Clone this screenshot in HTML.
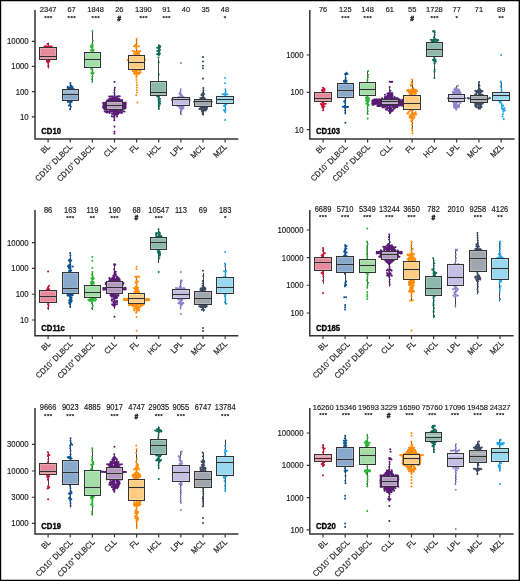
<!DOCTYPE html>
<html lang="en"><head><meta charset="utf-8"><title>Figure</title>
<style>html,body{margin:0;padding:0;background:#fff}body{width:520px;height:581px;overflow:hidden}svg{display:block;font-family:'Liberation Sans', Arial, Helvetica, sans-serif}</style></head><body>
<svg width="520" height="581" viewBox="0 0 520 581">
<rect x="0" y="0" width="520" height="581" fill="#fff"/>
<g>
<path d="M48.5 42.7V68.4" stroke="#444" stroke-width="1" fill="none"/>
<path d="M47.51 43.95h0M44.41 46.52h0M45.42 46.26h0M46.66 46.16h0M48.09 46.73h0M49.13 46.47h0M50.58 46.51h0M51.64 46.5h0M44.33 47.72h0M45.36 47.7h0M46.6 47.49h0M48.09 47.63h0M49.13 47.75h0M50.43 47.73h0M44.24 49.13h0M46.69 48.74h0M49.58 48.74h0M50.77 48.67h0M51.79 48.86h0M45.76 50.43h0M48.07 50.37h0M49.51 50.08h0M50.41 50.01h0M45.76 51.54h0M46.92 51.36h0M48.2 51.64h0M50.43 51.69h0M45.57 52.44h0M46.8 52.43h0M47.99 52.42h0M49.35 52.45h0M50.82 52.82h0M45.56 53.77h0M48.05 54.07h0M49.54 53.95h0M50.76 53.87h0M46.75 55.39h0M48.12 55.2h0M49.49 55.23h0M50.52 54.98h0M45.35 56.55h0M48.17 56.6h0M49.17 56.28h0M50.57 56.59h0M45.62 57.95h0M48.06 57.81h0M47.98 58.9h0M49.53 58.82h0M46.96 60.25h0M47.88 60.43h0M49.32 60.37h0M46.8 61.41h0M48.19 61.44h0M49.3 61.44h0M48 62.7h0M48.31 65.17h0M48.29 66.45h0" stroke="#cf1038" stroke-width="2.05" stroke-linecap="round" fill="none"/>
<rect x="39.5" y="47.5" width="17" height="12" fill="#e8899b" stroke="#333" stroke-width="1"/>
<rect x="40.5" y="48.5" width="15" height="10" fill="none" stroke="#fff" stroke-opacity="0.22" stroke-width="1"/>
<path d="M40.5 55.45H55.5M40.5 57.55H55.5" stroke="#fff" stroke-opacity="0.22" stroke-width="1"/>
<path d="M39.5 56.5H56.5" stroke="#2e2e2e" stroke-width="1.15"/>
<path d="M70.5 83V110" stroke="#444" stroke-width="1" fill="none"/>
<path d="M70.41 83h0M70.38 85.24h0M71.3 85.74h0M67.82 86.65h0M70.45 86.63h0M72.58 86.94h0M67.64 87.86h0M69.11 88.05h0M70.25 88.19h0M71.36 87.78h0M72.49 87.72h0M68.76 89.41h0M71.38 89.37h0M72.93 89.08h0M73.98 89.34h0M67.96 90.28h0M69 90.57h0M70.05 90.77h0M71.35 90.3h0M72.73 90.5h0M66.45 91.67h0M69.19 91.91h0M70.32 91.98h0M71.53 91.49h0M72.59 91.93h0M73.9 92.01h0M66.69 92.79h0M67.82 93.09h0M69.08 93.18h0M70.41 92.91h0M71.42 92.8h0M72.8 92.83h0M73.83 93.29h0M66.69 94.23h0M67.78 94.17h0M68.93 94.42h0M70.1 93.96h0M72.64 94.54h0M73.79 94.31h0M67.84 95.59h0M68.96 95.75h0M70.42 95.78h0M71.5 95.45h0M72.58 95.36h0M69 96.9h0M71.52 96.95h0M67.82 98.21h0M69.15 97.78h0M70.37 97.99h0M71.5 97.78h0M72.86 97.84h0M67.75 99.06h0M68.97 99.51h0M71.69 99.14h0M72.7 99.26h0M67.65 100.43h0M70.33 100.32h0M71.24 100.78h0M72.64 100.26h0M67.94 101.88h0M69.18 101.55h0M70.47 101.46h0M71.53 102h0M70.28 102.79h0M70.2 104.25h0M68.93 105.61h0M70.23 105.35h0M70.79 106.75h0M69.96 109.25h0" stroke="#0f5596" stroke-width="2.05" stroke-linecap="round" fill="none"/>
<rect x="62.5" y="89.5" width="16" height="11" fill="#88a9cb" stroke="#333" stroke-width="1"/>
<rect x="63.5" y="90.5" width="14" height="9" fill="none" stroke="#fff" stroke-opacity="0.22" stroke-width="1"/>
<path d="M63 92H78" stroke="#ffffff" stroke-opacity="0.5" stroke-width="0.8"/>
<path d="M63.5 93.45H77.5M63.5 95.55H77.5" stroke="#fff" stroke-opacity="0.22" stroke-width="1"/>
<path d="M62.5 94.5H78.5" stroke="#2e2e2e" stroke-width="1.15"/>
<path d="M92.5 30.9V82.3" stroke="#444" stroke-width="1" fill="none"/>
<path d="M92.91 40.5h0M92.4 44.25h0M91.25 45.63h0M92.47 45.24h0M91.1 46.92h0M92.59 46.87h0M92.37 48.18h0M92.51 49.25h0M90.93 50.38h0M92.35 50.68h0M93.66 50.36h0M92.51 52.84h0M93.48 52.74h0M92.39 54.04h0M90.93 55.33h0M92.47 55.57h0M92.21 56.58h0M93.64 56.46h0M90.87 57.95h0M92.32 58.27h0M92.5 59.42h0M92.12 60.62h0M91.24 61.69h0M91.07 63.21h0M92.41 63.25h0M93.72 63.17h0M92.3 64.03h0M93.7 63.97h0M92.12 65.23h0M92.55 66.59h0M92.23 67.98h0M91.12 68.96h0M92.26 69.34h0M92.46 70.59h0M92.32 71.71h0M91.3 73.2h0M92.48 73.04h0M93.53 73.02h0M92.55 74.25h0M92.29 76.75h0M91.89 79.25h0M92.22 81.75h0M92.36 30.9h0" stroke="#2bb536" stroke-width="2.05" stroke-linecap="round" fill="none"/>
<rect x="84.5" y="52.5" width="16" height="15" fill="#a2dea5" stroke="#333" stroke-width="1"/>
<rect x="85.5" y="53.5" width="14" height="13" fill="none" stroke="#fff" stroke-opacity="0.22" stroke-width="1"/>
<path d="M85.5 58.45H99.5M85.5 60.55H99.5" stroke="#fff" stroke-opacity="0.22" stroke-width="1"/>
<path d="M84.5 59.5H100.5" stroke="#2e2e2e" stroke-width="1.15"/>
<path d="M114.5 87.7V121" stroke="#444" stroke-width="1" fill="none"/>
<path d="M114.87 87.7h0M114.5 90.2h0M114.34 92.7h0M114.56 95.1h0M109.26 96.52h0M110.54 96.55h0M112.09 96.26h0M114.53 96.31h0M117.16 96.6h0M118.4 96.34h0M119.71 96.17h0M112.13 97.96h0M113.38 97.41h0M114.28 97.91h0M115.77 97.61h0M117.08 97.89h0M109.31 98.86h0M110.86 98.71h0M111.87 98.75h0M113.3 98.99h0M114.49 98.7h0M115.88 99.1h0M117.08 99.15h0M118.2 98.84h0M119.51 99.02h0M107.24 100.3h0M108.49 100.06h0M109.4 100.08h0M110.57 100.28h0M112.22 100.17h0M113.12 100.12h0M114.26 100.11h0M115.88 100.32h0M116.74 99.92h0M118.3 100.01h0M119.65 100.48h0M120.82 100.31h0M122.14 100.09h0M106.92 101.41h0M109.43 101.71h0M112.08 101.3h0M113.46 101.51h0M115.72 101.37h0M116.99 101.71h0M118.08 101.38h0M120.72 101.7h0M122.16 101.62h0M103.22 102.69h0M104.57 102.91h0M105.52 102.58h0M106.85 102.48h0M108.46 102.75h0M109.33 102.99h0M110.93 102.62h0M111.89 102.75h0M113.21 102.68h0M114.71 102.75h0M115.87 102.98h0M118.04 103h0M119.73 102.91h0M120.55 102.49h0M121.8 102.68h0M123.42 102.93h0M124.25 102.87h0M125.59 102.59h0M103.29 103.67h0M104.41 103.96h0M105.8 103.92h0M108.05 103.7h0M109.57 104.03h0M110.75 103.71h0M111.9 104.2h0M113.12 104.23h0M114.43 103.89h0M115.5 103.78h0M117.06 103.99h0M119.63 103.69h0M120.52 103.87h0M122.1 103.94h0M124.56 103.65h0M125.9 104.02h0M103.43 105.35h0M104.35 105.34h0M105.88 104.91h0M107.19 105.22h0M108.31 105.18h0M109.38 105.34h0M112.24 105.25h0M113.02 105.26h0M114.45 105.47h0M115.71 105.49h0M117.19 104.92h0M118.3 105.06h0M119.34 105.26h0M120.94 105.38h0M121.75 105.29h0M123.36 105.1h0M124.7 105.49h0M125.53 104.97h0M103.24 106.72h0M104.53 106.35h0M105.97 106.49h0M106.98 106.67h0M109.37 106.37h0M110.72 106.73h0M111.81 106.73h0M114.67 106.31h0M115.92 106.7h0M117.18 106.42h0M118.28 106.31h0M119.28 106.5h0M120.91 106.44h0M123.15 106.47h0M124.29 106.47h0M125.61 106.28h0M103.01 107.42h0M104.3 107.94h0M105.58 107.71h0M106.95 107.76h0M110.9 107.5h0M111.99 107.44h0M117.23 107.45h0M118.09 107.67h0M119.47 107.47h0M120.82 107.63h0M122.2 107.57h0M123.03 107.98h0M124.26 107.71h0M125.64 107.93h0M104.36 109.19h0M105.87 109.14h0M106.83 108.73h0M108.46 109.06h0M109.25 108.83h0M110.75 108.73h0M112.02 108.83h0M113.15 108.92h0M115.61 109.11h0M117.01 108.91h0M120.56 108.84h0M121.81 109.13h0M123.16 108.75h0M124.34 108.81h0M106.81 109.98h0M109.72 110.42h0M110.72 110.16h0M113.19 110.14h0M114.27 110.08h0M115.79 109.93h0M116.76 110.32h0M118.02 110.33h0M120.61 110.01h0M122.09 109.95h0M104.72 111.45h0M105.61 111.68h0M106.8 111.36h0M107.99 111.66h0M109.26 111.24h0M110.9 111.7h0M112.12 111.28h0M113.37 111.34h0M114.41 111.53h0M115.69 111.19h0M116.88 111.53h0M118.44 111.38h0M119.31 111.17h0M120.91 111.47h0M123.01 111.24h0M124.45 111.54h0M107.02 112.61h0M109.46 112.97h0M113.49 112.71h0M114.7 112.67h0M115.79 112.86h0M116.86 112.47h0M118.25 112.53h0M119.74 112.76h0M120.82 112.56h0M121.8 112.89h0M111.96 113.72h0M113.13 114.03h0M114.55 113.95h0M115.87 114.21h0M117.21 114.16h0M118.02 114.07h0M114.56 115.41h0M116.85 115.43h0M111.8 116.28h0M113.16 116.41h0M114.26 116.48h0M117.11 116.62h0M114.37 117.7h0M114.27 120.2h0M114.49 82h0M114.49 126.6h0M114.49 131.6h0M114.49 133.4h0" stroke="#5a1b76" stroke-width="2.05" stroke-linecap="round" fill="none"/>
<rect x="106.5" y="101.5" width="16" height="8" fill="#b598c2" stroke="#333" stroke-width="1"/>
<rect x="107.5" y="102.5" width="14" height="6" fill="none" stroke="#fff" stroke-opacity="0.22" stroke-width="1"/>
<path d="M107.5 104.45H121.5M107.5 106.55H121.5" stroke="#fff" stroke-opacity="0.22" stroke-width="1"/>
<path d="M106.5 105.5H122.5" stroke="#2e2e2e" stroke-width="1.15"/>
<path d="M136.5 38.7V78" stroke="#444" stroke-width="1" fill="none"/>
<path d="M136.56 38.7h0M136.6 41.2h0M136.71 43.7h0M135.39 44.87h0M133.95 46.32h0M135.6 46.43h0M136.84 46.39h0M139.04 46.26h0M136.62 47.53h0M136.4 48.65h0M132.68 51.01h0M134.27 51.07h0M136.76 51.41h0M137.97 51.38h0M139.23 51.42h0M140.16 51.06h0M135.21 52.18h0M136.86 52.54h0M139.06 52.54h0M134.05 53.47h0M135.41 53.77h0M136.67 53.79h0M137.83 53.69h0M138.89 53.68h0M134.35 54.69h0M135.25 55.04h0M136.82 55.18h0M137.84 54.67h0M139.14 55.11h0M133.99 56.27h0M136.64 55.99h0M139.21 55.93h0M133.89 57.29h0M135.13 57.39h0M136.71 57.35h0M139.04 57.64h0M132.85 58.56h0M133.88 58.68h0M135.38 58.66h0M136.85 58.99h0M137.9 58.84h0M138.99 58.99h0M140.26 58.59h0M127.72 60.12h0M129.26 59.97h0M130.54 59.95h0M131.64 59.95h0M132.68 60.06h0M134.08 60.23h0M136.85 59.7h0M137.95 59.69h0M139.26 59.98h0M140.46 59.86h0M141.75 60.2h0M142.72 59.82h0M144.3 59.8h0M145.2 59.73h0M133.99 61h0M135.25 61.15h0M136.63 61.11h0M137.87 61.06h0M139.14 61.12h0M133.88 62.74h0M135.52 62.55h0M136.47 62.38h0M137.69 62.65h0M139.09 62.74h0M134.27 63.47h0M135.19 63.7h0M136.63 63.63h0M137.79 63.52h0M138.89 63.89h0M134 65h0M135.21 64.82h0M136.79 64.97h0M138.08 65.12h0M139.18 64.71h0M134.26 66.08h0M135.51 65.99h0M136.46 65.92h0M137.94 66.39h0M138.89 66.46h0M134.29 67.49h0M135.6 67.6h0M136.8 67.42h0M139.02 67.5h0M133.94 68.7h0M135.34 68.4h0M136.67 68.97h0M137.72 68.79h0M139.04 68.78h0M135.44 70.03h0M136.43 70.08h0M137.75 70.19h0M139.29 69.93h0M140.48 69.97h0M132.63 71.12h0M133.89 71.18h0M135.37 70.91h0M136.39 71.36h0M140.31 71.03h0M134.36 72.25h0M135.26 72.16h0M136.82 72.66h0M137.68 72.56h0M139.11 72.66h0M140.52 72.72h0M134.03 73.79h0M135.2 73.83h0M136.61 73.71h0M137.77 73.64h0M138.95 73.74h0M136.58 75.05h0M136.51 76.1h0M136.41 77.45h0M136.38 79.95h0M136.68 82.45h0M136.97 84.95h0M136.91 87.45h0M136.87 89.95h0M136.98 92.45h0M136.23 94.95h0M137.42 102.5h0" stroke="#ff8d0a" stroke-width="2.05" stroke-linecap="round" fill="none"/>
<rect x="128.5" y="55.5" width="16" height="14" fill="#ffcd82" stroke="#333" stroke-width="1"/>
<rect x="129.5" y="56.5" width="14" height="12" fill="none" stroke="#fff" stroke-opacity="0.22" stroke-width="1"/>
<path d="M129.5 61.45H143.5M129.5 63.55H143.5" stroke="#fff" stroke-opacity="0.22" stroke-width="1"/>
<path d="M128.5 62.5H144.5" stroke="#2e2e2e" stroke-width="1.15"/>
<path d="M158.5 58.7V109.3" stroke="#444" stroke-width="1" fill="none"/>
<path d="M158.94 45.32h0M158.84 46.23h0M160.23 46.27h0M157.31 47.71h0M158.69 47.49h0M159.94 47.54h0M158.98 48.86h0M158.85 49.89h0M160.01 50.11h0M157.4 51.06h0M159 51.27h0M158.98 52.63h0M157.25 54.14h0M158.6 53.78h0M159.96 53.6h0M158.94 54.99h0M158.57 57.52h0M157.33 96.47h0M158.95 96.39h0M158.74 97.77h0M158.89 99.03h0M160.04 99.12h0M158.54 100.18h0M158.82 101.21h0M160.19 101.57h0M158.76 102.85h0M158.95 103.64h0M160.14 103.67h0M158.69 105.37h0M159.34 106.35h0M158.92 108.85h0M158.75 62.3h0M158.75 74.4h0" stroke="#0f6c55" stroke-width="2.05" stroke-linecap="round" fill="none"/>
<rect x="150.5" y="81.5" width="16" height="14" fill="#8cb9ab" stroke="#333" stroke-width="1"/>
<rect x="151.5" y="82.5" width="14" height="12" fill="none" stroke="#fff" stroke-opacity="0.22" stroke-width="1"/>
<path d="M151.5 91.45H165.5M151.5 93.55H165.5" stroke="#fff" stroke-opacity="0.22" stroke-width="1"/>
<path d="M150.5 92.5H166.5" stroke="#2e2e2e" stroke-width="1.15"/>
<path d="M180.5 89.3V114.3" stroke="#444" stroke-width="1" fill="none"/>
<path d="M180.73 89.3h0M180.64 91.71h0M179.65 92.98h0M179.79 94.51h0M181.1 94.38h0M180.98 95.54h0M182 95.3h0M178.49 97.08h0M180.82 97.07h0M181.93 96.92h0M183.47 96.69h0M178.15 97.82h0M179.47 97.88h0M180.81 98.08h0M183.52 97.8h0M171.9 99.35h0M173.58 99.47h0M174.66 99.35h0M175.87 99.01h0M178.43 99.07h0M179.76 99.55h0M181.07 99.54h0M182.02 99.38h0M183.45 99.42h0M184.39 99.02h0M185.74 99.19h0M187.14 99.25h0M188.21 99.59h0M189.45 99.23h0M172.08 100.41h0M173.62 100.41h0M174.53 100.4h0M175.95 100.26h0M177.14 100.75h0M179.42 100.65h0M180.85 100.82h0M182.27 100.77h0M183.6 100.61h0M184.46 100.45h0M185.83 100.61h0M186.98 100.8h0M188.57 100.79h0M189.69 100.78h0M177.18 101.8h0M178.47 101.73h0M179.5 101.72h0M180.76 101.77h0M182.23 101.55h0M184.59 101.76h0M177.06 103.06h0M178.33 102.99h0M179.52 103.14h0M180.71 103.08h0M184.77 102.91h0M177.1 104.01h0M178.55 104.03h0M179.81 104.27h0M181.09 104.48h0M182.17 104.59h0M183.58 104.35h0M177.07 105.7h0M178.59 105.66h0M179.86 105.42h0M181 105.52h0M182.07 105.51h0M183.35 105.25h0M179.46 106.98h0M181.08 106.69h0M181.93 106.82h0M183.52 106.84h0M179.62 107.78h0M180.71 108.28h0M181.95 108.21h0M183.53 108.31h0M180.83 109.53h0M182.1 109.28h0M181.07 110.31h0M181.3 111.8h0M181.25 114.3h0M180.88 62.9h0" stroke="#8f86cd" stroke-width="2.05" stroke-linecap="round" fill="none"/>
<rect x="172.5" y="97.5" width="17" height="8" fill="#c4bfe4" stroke="#333" stroke-width="1"/>
<rect x="173.5" y="98.5" width="15" height="6" fill="none" stroke="#fff" stroke-opacity="0.22" stroke-width="1"/>
<path d="M173.5 100.55H188.5" stroke="#fff" stroke-opacity="0.22" stroke-width="1"/>
<path d="M172.5 99.5H189.5" stroke="#2e2e2e" stroke-width="1.15"/>
<path d="M203.5 87.9V115.7" stroke="#444" stroke-width="1" fill="none"/>
<path d="M203.36 87.9h0M203.31 90.4h0M202.73 92.9h0M201.56 94.4h0M203.05 93.98h0M204.12 94.04h0M201.53 95.25h0M202.87 95.66h0M200.37 97.95h0M201.92 97.87h0M203.06 97.62h0M204.41 97.95h0M200.57 99.27h0M203.15 99.21h0M204.3 99.14h0M205.7 99.42h0M195.53 100.35h0M196.82 100.49h0M199.37 100.22h0M200.75 100.12h0M201.86 100.42h0M203.07 100.68h0M205.34 100.61h0M209.02 100.58h0M210.51 100.39h0M194.2 101.81h0M195.53 101.93h0M196.98 101.67h0M197.92 101.57h0M199.27 101.7h0M200.67 101.66h0M201.81 101.63h0M202.95 101.62h0M204.47 101.75h0M205.31 101.37h0M206.98 101.65h0M208.05 101.56h0M211.6 101.64h0M196.77 102.75h0M199.15 102.95h0M200.53 103.17h0M204.29 102.75h0M205.56 102.92h0M208.22 102.74h0M209.51 102.97h0M200.53 103.91h0M201.65 104.18h0M202.94 104.04h0M204.38 104.01h0M205.72 104.02h0M199.3 105.43h0M200.65 105.47h0M201.77 105.18h0M202.86 105.22h0M205.36 105.29h0M206.52 105.44h0M200.44 106.64h0M201.56 106.49h0M203 106.85h0M204.08 106.37h0M200.63 108.07h0M201.95 107.73h0M203.15 107.68h0M204.44 107.73h0M205.55 107.93h0M207.01 107.81h0M199.4 109.02h0M200.28 108.87h0M201.67 109.17h0M204.33 108.95h0M205.27 109.12h0M206.85 109h0M201.72 110.14h0M203.12 110.19h0M204.15 110.54h0M205.75 110.38h0M201.98 111.39h0M202.91 111.81h0M202.96 112.78h0M202.71 114.15h0M203.01 57.1h0M203.01 61.4h0M203.01 65.7h0M203.01 68.3h0M203.01 78.6h0" stroke="#3b4b62" stroke-width="2.05" stroke-linecap="round" fill="none"/>
<rect x="194.5" y="99.5" width="17" height="7" fill="#9fa6ae" stroke="#333" stroke-width="1"/>
<rect x="195.5" y="100.5" width="15" height="5" fill="none" stroke="#fff" stroke-opacity="0.22" stroke-width="1"/>
<path d="M195.5 102.55H210.5" stroke="#fff" stroke-opacity="0.22" stroke-width="1"/>
<path d="M194.5 101.5H211.5" stroke="#2e2e2e" stroke-width="1.15"/>
<path d="M225.5 89.3V113" stroke="#444" stroke-width="1" fill="none"/>
<path d="M225.36 89.3h0M225.63 91.8h0M225.33 93.08h0M222.65 94.18h0M223.93 94.31h0M225.35 94.04h0M226.62 94.36h0M227.58 94.34h0M225.2 95.29h0M224.04 96.97h0M225.07 96.78h0M225.16 98.34h0M226.46 97.81h0M224.12 100.4h0M225.04 100.68h0M226.47 100.66h0M223.95 101.58h0M225.24 101.97h0M224.1 103.04h0M225.16 104.35h0M226.52 104.09h0M223.86 105.82h0M225.32 105.61h0M225.18 106.8h0M225.48 109.3h0M223.84 110.34h0M225.35 110.42h0M225.09 111.8h0M225.14 77.9h0M225.14 83.3h0M225.14 120h0" stroke="#20a8ea" stroke-width="2.05" stroke-linecap="round" fill="none"/>
<rect x="216.5" y="96.5" width="17" height="7" fill="#98d8f1" stroke="#333" stroke-width="1"/>
<rect x="217.5" y="97.5" width="15" height="5" fill="none" stroke="#fff" stroke-opacity="0.22" stroke-width="1"/>
<path d="M217.5 98.45H232.5M217.5 100.55H232.5" stroke="#fff" stroke-opacity="0.22" stroke-width="1"/>
<path d="M216.5 99.5H233.5" stroke="#2e2e2e" stroke-width="1.15"/>
<path d="M35 10V139H238.4" stroke="#333" stroke-width="1.5" fill="none"/>
<path d="M31.9 41.4H35M31.9 66.4H35M31.9 91.6H35M31.9 116.8H35M48.1 139V142.4M70.23 139V142.4M92.36 139V142.4M114.49 139V142.4M136.62 139V142.4M158.75 139V142.4M180.88 139V142.4M203.01 139V142.4M225.14 139V142.4" stroke="#333" stroke-width="1.15" fill="none"/>
<g font-size="7.8" fill="#1a1a1a" stroke="#1a1a1a" stroke-width="0.15" text-anchor="end">
<text transform="translate(28.7 44.35) scale(1 1.1)">10000</text>
<text transform="translate(28.7 69.35) scale(1 1.1)">1000</text>
<text transform="translate(28.7 94.55) scale(1 1.1)">100</text>
<text transform="translate(28.7 119.75) scale(1 1.1)">10</text>
</g>
<g font-size="7.5" fill="#1a1a1a" stroke="#1a1a1a" stroke-width="0.15" text-anchor="middle">
<text transform="translate(48.2 12.35) scale(1 1.08)">2347</text>
<text x="48.4" y="20.2" font-size="6.2" font-weight="bold" letter-spacing="0.4" stroke="#111" stroke-width="0.12" fill="#111">***</text>
<text transform="translate(71.6 12.35) scale(1 1.08)">67</text>
<text x="71.8" y="20.2" font-size="6.2" font-weight="bold" letter-spacing="0.4" stroke="#111" stroke-width="0.12" fill="#111">***</text>
<text transform="translate(95.6 12.35) scale(1 1.08)">1848</text>
<text x="95.8" y="20.2" font-size="6.2" font-weight="bold" letter-spacing="0.4" stroke="#111" stroke-width="0.12" fill="#111">***</text>
<text transform="translate(119.3 12.35) scale(1 1.08)">26</text>
<text x="119.1" y="20.55" font-size="6.5" font-style="italic" font-weight="bold" stroke="#2a2a2a" stroke-width="0.5" fill="#2a2a2a">#</text>
<text transform="translate(143.4 12.35) scale(1 1.08)">1390</text>
<text x="143.6" y="20.2" font-size="6.2" font-weight="bold" letter-spacing="0.4" stroke="#111" stroke-width="0.12" fill="#111">***</text>
<text transform="translate(166.4 12.35) scale(1 1.08)">91</text>
<text x="166.6" y="20.2" font-size="6.2" font-weight="bold" letter-spacing="0.4" stroke="#111" stroke-width="0.12" fill="#111">***</text>
<text transform="translate(186 12.35) scale(1 1.08)">40</text>
<text transform="translate(205.6 12.35) scale(1 1.08)">35</text>
<text transform="translate(225 12.35) scale(1 1.08)">48</text>
<text x="225.2" y="20.2" font-size="6.2" font-weight="bold" letter-spacing="0.4" stroke="#111" stroke-width="0.12" fill="#111">*</text>
</g>
<text transform="translate(41.2 134.3) scale(1 1.07)" font-size="7.75" font-weight="bold" fill="#000" stroke="#000" stroke-width="0.3">CD10</text>
<g font-size="7.65" fill="#1a1a1a" stroke="#1a1a1a" stroke-width="0.15" text-anchor="end">
<text transform="translate(50.6 147.5) rotate(-45) scale(1 1.07)">BL</text>
<text transform="translate(72.69 147.5) rotate(-45) scale(1 1.07)">CD10<tspan font-size="4.4" dy="-3.3">−</tspan><tspan dy="3.3" dx="-0.5"> DLBCL</tspan></text>
<text transform="translate(94.78 147.5) rotate(-45) scale(1 1.07)">CD10<tspan font-size="5" dy="-3.1">+</tspan><tspan dy="3.1" dx="-0.3"> DLBCL</tspan></text>
<text transform="translate(116.88 147.5) rotate(-45) scale(1 1.07)">CLL</text>
<text transform="translate(138.97 147.5) rotate(-45) scale(1 1.07)">FL</text>
<text transform="translate(161.06 147.5) rotate(-45) scale(1 1.07)">HCL</text>
<text transform="translate(183.16 147.5) rotate(-45) scale(1 1.07)">LPL</text>
<text transform="translate(205.25 147.5) rotate(-45) scale(1 1.07)">MCL</text>
<text transform="translate(227.34 147.5) rotate(-45) scale(1 1.07)">MZL</text>
</g>
</g>
<g>
<path d="M323.5 87.7V111" stroke="#444" stroke-width="1" fill="none"/>
<path d="M323.04 87.7h0M323.2 89.08h0M324.49 88.78h0M321.9 90.29h0M323.23 90.42h0M324.5 90.35h0M322.86 91.47h0M323.31 92.49h0M324.37 92.62h0M323.04 94.2h0M324.36 93.83h0M322.86 95.18h0M324.57 95.37h0M321.7 96.41h0M322.92 96.67h0M322.85 97.77h0M324.38 97.46h0M321.6 99.13h0M323.15 98.66h0M323.31 100.29h0M324.41 100.18h0M321.92 101.67h0M322.94 101.36h0M323.05 102.46h0M320.72 103.97h0M322.07 104.22h0M323.31 104.04h0M324.47 103.75h0M325.72 103.72h0M321.67 104.95h0M323.29 105.35h0M322.09 106.73h0M323.21 106.3h0M324.43 106.54h0M322.6 107.7h0M323.02 110.2h0" stroke="#cf1038" stroke-width="2.05" stroke-linecap="round" fill="none"/>
<rect x="314.5" y="92.5" width="17" height="9" fill="#e8899b" stroke="#333" stroke-width="1"/>
<rect x="315.5" y="93.5" width="15" height="7" fill="none" stroke="#fff" stroke-opacity="0.22" stroke-width="1"/>
<path d="M315.5 97.45H330.5M315.5 99.55H330.5" stroke="#fff" stroke-opacity="0.22" stroke-width="1"/>
<path d="M314.5 98.5H331.5" stroke="#2e2e2e" stroke-width="1.15"/>
<path d="M345.5 73V114.6" stroke="#444" stroke-width="1" fill="none"/>
<path d="M346.53 72.83h0M345.03 73.95h0M346.26 74.28h0M347.43 74.08h0M345.71 78h0M344.15 80.67h0M345.25 80.39h0M346.47 80.58h0M343.97 81.5h0M345.47 81.97h0M346.49 81.67h0M345.35 83.17h0M345.34 84.54h0M343.93 85.32h0M345.61 85.35h0M346.85 85.75h0M345.36 86.49h0M346.38 86.51h0M344.16 88.24h0M345.31 87.89h0M345.31 89.31h0M346.43 89.18h0M345.25 90.35h0M345.53 91.92h0M345.05 93h0M345.64 95.5h0M345.45 98h0M345.14 100.5h0M344.13 101.51h0M345.21 101.95h0M345.26 103h0M344.98 105.5h0M342.94 106.67h0M343.93 106.75h0M345.51 106.53h0M346.84 106.97h0M347.99 106.85h0M345.09 108h0M345.03 110.5h0M345.24 113h0M345.36 122.7h0" stroke="#0f5596" stroke-width="2.05" stroke-linecap="round" fill="none"/>
<rect x="337.5" y="83.5" width="16" height="14" fill="#88a9cb" stroke="#333" stroke-width="1"/>
<rect x="338.5" y="84.5" width="14" height="12" fill="none" stroke="#fff" stroke-opacity="0.22" stroke-width="1"/>
<path d="M338.5 89.45H352.5M338.5 91.55H352.5" stroke="#fff" stroke-opacity="0.22" stroke-width="1"/>
<path d="M337.5 90.5H353.5" stroke="#2e2e2e" stroke-width="1.15"/>
<path d="M367.5 71V113.9" stroke="#444" stroke-width="1" fill="none"/>
<path d="M368.2 71h0M368.12 74.75h0M368.09 77.25h0M367.46 79.75h0M367.41 82.25h0M366.18 83.59h0M367.75 83.73h0M369.06 83.47h0M367.37 84.72h0M368.69 84.91h0M366.46 85.88h0M367.63 86.27h0M368.84 85.72h0M367.56 87.29h0M367.42 88.36h0M368.81 88.56h0M366.29 89.86h0M367.83 90.04h0M366.18 91.23h0M367.64 91.11h0M366.35 91.99h0M367.7 92.52h0M369.11 92.09h0M366.46 93.62h0M367.8 93.36h0M369.06 93.69h0M368.89 94.82h0M366.16 97.37h0M367.68 96.97h0M366.16 98.58h0M367.58 98.5h0M368.98 98.32h0M366.39 99.55h0M367.87 99.82h0M368.86 99.74h0M366.25 101.06h0M367.72 101.1h0M368.77 101.14h0M366.25 103.62h0M367.84 103.2h0M367.45 104.61h0M368.68 104.75h0M367.93 106h0M367.63 108.5h0M367.82 111h0M367.6 113.5h0M367.62 113.9h0M367.62 118.6h0" stroke="#2bb536" stroke-width="2.05" stroke-linecap="round" fill="none"/>
<rect x="359.5" y="82.5" width="16" height="13" fill="#a2dea5" stroke="#333" stroke-width="1"/>
<rect x="360.5" y="83.5" width="14" height="11" fill="none" stroke="#fff" stroke-opacity="0.22" stroke-width="1"/>
<path d="M360.5 88.45H374.5M360.5 90.55H374.5" stroke="#fff" stroke-opacity="0.22" stroke-width="1"/>
<path d="M359.5 89.5H375.5" stroke="#2e2e2e" stroke-width="1.15"/>
<path d="M389.5 87.4V113.9" stroke="#444" stroke-width="1" fill="none"/>
<path d="M389.66 81.81h0M390.84 82.07h0M392.18 81.85h0M389.63 87h0M390.4 90.75h0M387.42 93.41h0M388.54 93.28h0M389.79 93.07h0M391.2 93.26h0M392.18 93.09h0M385 94.66h0M388.49 94.49h0M390 94.79h0M391.06 94.75h0M392.56 94.7h0M387.32 95.74h0M388.39 95.99h0M390.07 95.46h0M390.92 95.59h0M392.47 95.98h0M384.97 96.95h0M386.32 96.81h0M387.48 96.89h0M390.01 96.84h0M391.3 97.03h0M394.7 96.98h0M382.14 98.37h0M384.78 98.28h0M386.33 97.99h0M387.34 98.15h0M388.51 98.27h0M390.03 98.16h0M391.33 98.11h0M392.52 98h0M393.84 98.01h0M395.12 98.52h0M396.27 98.4h0M397.28 98.05h0M373.46 99.74h0M374.8 99.49h0M376.33 99.28h0M377.51 99.51h0M378.61 99.44h0M379.75 99.34h0M381.25 99.72h0M382.42 99.58h0M383.48 99.43h0M384.82 99.6h0M386.21 99.35h0M388.85 99.65h0M390.13 99.61h0M392.26 99.45h0M393.82 99.26h0M394.79 99.77h0M396.37 99.69h0M397.34 99.49h0M398.58 99.38h0M399.81 99.47h0M402.25 99.77h0M403.62 99.69h0M406.24 99.78h0M372.32 100.88h0M373.46 100.6h0M375.11 100.97h0M376.06 100.97h0M377.44 100.9h0M378.8 100.63h0M379.88 100.77h0M381.3 100.78h0M382.42 100.46h0M383.6 100.59h0M385.09 100.7h0M385.94 100.89h0M387.24 100.69h0M391.37 100.67h0M393.73 100.75h0M394.96 100.56h0M397.4 100.82h0M398.82 100.87h0M400.1 101.01h0M401.26 101.05h0M402.36 100.8h0M403.78 100.99h0M404.79 100.67h0M406.36 100.58h0M407.17 100.83h0M372.55 102.13h0M373.78 101.74h0M374.92 102.19h0M376.31 102.26h0M377.32 101.77h0M378.81 102.17h0M380 101.8h0M380.9 101.8h0M382.25 101.87h0M384.93 101.86h0M385.98 102.26h0M389.92 102.29h0M390.95 102.28h0M392.49 102.2h0M393.46 101.87h0M395.11 102.06h0M396.34 101.74h0M397.62 101.84h0M399.79 102.07h0M401.18 102.07h0M402.62 102.19h0M403.66 101.74h0M404.76 102.05h0M405.95 102.12h0M407.53 102.24h0M372.25 103.36h0M373.79 103.54h0M374.89 103.07h0M375.97 103.39h0M377.31 103.2h0M378.85 103.35h0M379.66 103.16h0M381.26 103.51h0M382.25 103.36h0M383.64 103.05h0M384.89 103.42h0M386.2 103.06h0M387.32 103.12h0M388.46 103.13h0M389.89 103.21h0M391.01 103.06h0M392.4 103.36h0M393.64 103.15h0M394.77 103.09h0M396.01 103.14h0M397.3 103.22h0M398.58 103.11h0M399.81 103.3h0M401.27 103.24h0M402.49 103.15h0M403.46 103.39h0M404.79 103.52h0M406.13 103.22h0M407.47 103h0M372.52 104.76h0M373.48 104.66h0M374.88 104.25h0M377.47 104.76h0M378.86 104.45h0M379.8 104.33h0M381.04 104.5h0M382.53 104.73h0M383.42 104.71h0M387.4 104.65h0M388.86 104.24h0M390.05 104.33h0M391.24 104.54h0M392.34 104.32h0M393.49 104.28h0M395.99 104.65h0M397.3 104.23h0M398.6 104.59h0M399.73 104.54h0M400.97 104.36h0M402.61 104.73h0M403.69 104.31h0M404.71 104.55h0M406.19 104.73h0M407.45 104.48h0M377.41 105.91h0M378.71 105.95h0M379.94 105.9h0M381.2 105.76h0M382.2 105.85h0M383.81 105.6h0M384.76 105.64h0M386.26 105.74h0M387.26 105.92h0M388.68 105.47h0M389.82 105.57h0M391.02 105.56h0M392.24 105.66h0M393.75 105.93h0M394.88 105.81h0M396.23 105.63h0M397.3 105.61h0M398.72 105.67h0M400.11 105.51h0M402.17 105.78h0M382.47 107.18h0M383.41 107.23h0M384.82 107.14h0M386.21 106.71h0M387.17 106.97h0M390.05 107.12h0M392.5 106.79h0M393.66 107.11h0M394.63 107.29h0M396.05 106.99h0M397.15 107.28h0M387.42 108.13h0M388.4 108.04h0M389.93 108.18h0M391.28 108.22h0M394.76 108.21h0M385.91 109.38h0M387.36 109.47h0M389.95 109.44h0M391.15 109.54h0M392.2 109.43h0M393.49 109.3h0M388.69 110.67h0M390.06 110.55h0M391.08 110.95h0M392.62 110.75h0M390 111.87h0M390.96 111.76h0M389.93 113.25h0" stroke="#5a1b76" stroke-width="2.05" stroke-linecap="round" fill="none"/>
<rect x="381.5" y="99.5" width="17" height="5" fill="#b598c2" stroke="#333" stroke-width="1"/>
<rect x="382.5" y="100.5" width="15" height="3" fill="none" stroke="#fff" stroke-opacity="0.22" stroke-width="1"/>
<path d="M382.5 102.55H397.5" stroke="#fff" stroke-opacity="0.22" stroke-width="1"/>
<path d="M381.5 101.5H398.5" stroke="#2e2e2e" stroke-width="1.15"/>
<path d="M412.5 79.6V129.5" stroke="#444" stroke-width="1" fill="none"/>
<path d="M412.16 79.6h0M411.59 82.1h0M412.08 83.42h0M410.76 84.66h0M412.04 84.32h0M410.95 86h0M413.57 88.25h0M408.25 89.79h0M410.99 89.79h0M411.91 89.45h0M413.4 89.47h0M414.67 89.85h0M415.94 89.65h0M407 90.58h0M408.23 90.63h0M409.47 90.64h0M410.9 91.09h0M412.37 90.57h0M413.19 90.82h0M414.41 90.95h0M416.05 90.95h0M417.05 91.08h0M408.6 92.12h0M409.43 92.18h0M410.79 92h0M412.2 91.89h0M413.32 92.39h0M414.65 92.15h0M416.05 92.06h0M409.85 93.41h0M410.79 93.16h0M412 93.47h0M413.14 93.32h0M414.79 93.06h0M415.89 93.22h0M409.83 94.67h0M410.89 94.5h0M411.96 94.35h0M414.81 94.64h0M409.82 95.7h0M410.91 95.79h0M412.24 96.02h0M413.52 96.11h0M414.55 95.65h0M409.78 97.23h0M411.92 96.88h0M409.43 98.59h0M410.69 98.5h0M412.13 98.43h0M413.49 98.58h0M414.51 98.6h0M409.58 99.85h0M411.12 99.42h0M412.24 99.64h0M413.19 99.52h0M414.73 99.89h0M409.63 100.61h0M411.07 100.97h0M412.24 101.13h0M413.33 100.82h0M414.8 100.93h0M409.57 102.28h0M412.32 102.18h0M413.56 102.23h0M414.49 101.82h0M409.67 103.45h0M411.08 103.45h0M413.46 103.5h0M414.4 103.14h0M411.05 104.78h0M412.16 104.52h0M413.15 104.74h0M414.7 104.39h0M411 105.77h0M412.07 106h0M414.82 105.69h0M409.82 107.07h0M412.32 107.32h0M413.2 107.1h0M409.42 108.41h0M411.11 108.25h0M412.36 108.56h0M413.27 108.43h0M414.77 108.42h0M409.6 109.5h0M410.83 109.68h0M412.1 109.85h0M413.37 109.65h0M409.81 110.67h0M411.94 110.77h0M408.53 111.93h0M412.17 112.2h0M415.65 112.3h0M407.28 113.5h0M408.42 113.47h0M412.01 113.41h0M413.21 113.16h0M414.88 113.13h0M415.66 113.12h0M410.78 114.55h0M412.14 114.87h0M413.36 114.57h0M414.79 114.53h0M416.14 114.52h0M409.81 115.97h0M410.95 116.08h0M412.3 115.65h0M413.62 116.06h0M409.55 117.26h0M411.92 117.01h0M414.49 117.35h0M410.74 118.15h0M412.28 118.53h0M413.57 118.47h0M412.32 119.41h0M411.02 121.02h0M411.97 121.08h0M412.22 122.1h0M411.99 124.6h0M411.97 128.35h0M412.34 130.85h0M412.54 133.35h0" stroke="#ff8d0a" stroke-width="2.05" stroke-linecap="round" fill="none"/>
<rect x="403.5" y="95.5" width="17" height="14" fill="#ffcd82" stroke="#333" stroke-width="1"/>
<rect x="404.5" y="96.5" width="15" height="12" fill="none" stroke="#fff" stroke-opacity="0.22" stroke-width="1"/>
<path d="M404.5 102.45H419.5M404.5 104.55H419.5" stroke="#fff" stroke-opacity="0.22" stroke-width="1"/>
<path d="M403.5 103.5H420.5" stroke="#2e2e2e" stroke-width="1.15"/>
<path d="M434.5 31.1V77.9" stroke="#444" stroke-width="1" fill="none"/>
<path d="M433.11 31.38h0M434.41 31.06h0M434.65 32.35h0M434.78 34.85h0M433.8 37.35h0M434.59 38.51h0M430.73 39.76h0M431.7 40.1h0M433.27 39.76h0M434.62 39.74h0M435.56 39.63h0M436.77 39.88h0M438.11 40.14h0M432.12 41.38h0M432.9 41.21h0M434.46 40.98h0M437.04 40.96h0M434.42 42.49h0M435.8 42.33h0M434.49 43.34h0M434.28 44.68h0M433.04 45.97h0M434.51 46.32h0M435.4 46.07h0M433.1 47.42h0M434.61 47.36h0M433.07 48.66h0M434.63 48.61h0M432.97 50.15h0M434.2 49.61h0M435.48 49.83h0M433.32 51.07h0M434.63 51.01h0M432.96 53.63h0M434.48 53.48h0M435.47 53.37h0M434.17 54.95h0M435.77 54.74h0M434.52 56.37h0M434.3 57.39h0M434.35 58.63h0M432.94 60.02h0M434.28 60.09h0M435.51 59.65h0M434.34 61.15h0M435.84 61.4h0M434.52 62.18h0M434.6 63.6h0M434.66 69.85h0M434.4 71.5h0M434.4 77.9h0" stroke="#0f6c55" stroke-width="2.05" stroke-linecap="round" fill="none"/>
<rect x="426.5" y="42.5" width="16" height="14" fill="#8cb9ab" stroke="#333" stroke-width="1"/>
<rect x="427.5" y="43.5" width="14" height="12" fill="none" stroke="#fff" stroke-opacity="0.22" stroke-width="1"/>
<path d="M427.5 48.45H441.5M427.5 50.55H441.5" stroke="#fff" stroke-opacity="0.22" stroke-width="1"/>
<path d="M426.5 49.5H442.5" stroke="#2e2e2e" stroke-width="1.15"/>
<path d="M456.5 85.7V110.1" stroke="#444" stroke-width="1" fill="none"/>
<path d="M458.02 85.7h0M455.37 88.24h0M456.66 88.22h0M454.15 89.52h0M455.32 89.48h0M456.59 89.37h0M458.07 89.42h0M459.19 89.67h0M455.33 90.44h0M456.52 90.78h0M457.85 90.91h0M459.05 90.68h0M452.8 91.84h0M454.2 91.83h0M455.54 91.73h0M456.69 92.01h0M457.86 92.05h0M459.19 91.68h0M460.22 92.04h0M453.02 93h0M454.28 92.99h0M455.63 92.95h0M456.61 93.23h0M457.87 93.3h0M458.98 93.33h0M460.57 93.07h0M452.67 94.49h0M455.57 94.19h0M456.84 94.16h0M458.14 94.55h0M459.36 94.49h0M460.4 94.75h0M453.04 95.56h0M455.63 95.44h0M456.61 95.79h0M457.92 95.91h0M459.15 95.7h0M460.41 95.69h0M453.05 96.65h0M454.32 96.8h0M455.19 97.15h0M456.72 96.76h0M460.6 96.86h0M447.84 98.18h0M448.96 98.31h0M450.55 98.27h0M456.55 98.29h0M458.04 97.92h0M459.1 98.5h0M460.33 98.22h0M461.42 98.1h0M462.94 98.38h0M464.36 98.31h0M465.57 97.97h0M452.99 99.29h0M454.1 99.64h0M455.34 99.71h0M456.86 99.3h0M459.37 99.37h0M460.57 99.7h0M453.12 100.4h0M453.98 100.95h0M455.35 100.61h0M456.66 100.72h0M458.12 100.93h0M459.28 100.59h0M460.52 100.86h0M453.15 102.14h0M454.18 101.67h0M455.21 101.81h0M456.48 101.76h0M458.05 101.7h0M459.37 101.68h0M460.63 101.87h0M454.26 103.23h0M455.22 103.39h0M456.82 103.01h0M460.32 102.94h0M453.97 104.6h0M455.63 104.5h0M456.48 104.31h0M459.05 104.75h0M454.1 105.66h0M455.21 105.43h0M456.71 105.72h0M457.97 105.46h0M459.05 105.49h0M454 106.95h0M455.53 106.97h0M456.79 106.94h0M457.86 106.87h0M459.09 107.05h0M455.22 108.22h0M456.86 107.9h0M456.18 109.45h0" stroke="#8f86cd" stroke-width="2.05" stroke-linecap="round" fill="none"/>
<rect x="448.5" y="94.5" width="16" height="7" fill="#c4bfe4" stroke="#333" stroke-width="1"/>
<rect x="449.5" y="95.5" width="14" height="5" fill="none" stroke="#fff" stroke-opacity="0.22" stroke-width="1"/>
<path d="M449.5 97.45H463.5M449.5 99.55H463.5" stroke="#fff" stroke-opacity="0.22" stroke-width="1"/>
<path d="M448.5 98.5H464.5" stroke="#2e2e2e" stroke-width="1.15"/>
<path d="M478.5 82.1V109.7" stroke="#444" stroke-width="1" fill="none"/>
<path d="M479.1 82.1h0M478.97 84.6h0M479.51 86.02h0M479.18 88.35h0M478.93 89.49h0M479.98 89.38h0M475.34 90.81h0M476.65 91.06h0M477.82 90.64h0M479.12 90.83h0M479.95 91.14h0M481.51 90.78h0M482.44 91.13h0M476.55 91.91h0M477.92 92.04h0M479.04 92.09h0M480.16 92.22h0M481.31 91.97h0M476.45 93.3h0M478.77 93.53h0M480.32 93.2h0M475.04 94.42h0M476.2 94.84h0M478.96 94.73h0M480.38 94.35h0M481.22 94.67h0M482.72 94.73h0M475.21 95.76h0M476.31 95.81h0M477.69 95.89h0M478.82 95.76h0M480.1 96.1h0M481.39 96.15h0M482.91 95.79h0M475.2 97.33h0M476.32 97.15h0M477.62 96.86h0M478.97 96.93h0M479.97 97.37h0M481.56 97.1h0M482.61 96.81h0M467.84 98.08h0M468.75 98.61h0M470.4 98.28h0M471.4 98.61h0M472.87 98.25h0M474 98.59h0M475.4 98.1h0M476.63 98.49h0M477.81 98.6h0M478.99 98.43h0M480.24 98.24h0M481.28 98.23h0M482.54 98.23h0M485.18 98.28h0M486.21 98.23h0M487.5 98.58h0M488.73 98.62h0M490.02 98.07h0M475.16 99.48h0M477.45 99.38h0M478.87 99.7h0M481.45 99.9h0M475.31 100.92h0M476.54 100.93h0M477.49 100.73h0M479.04 100.66h0M479.95 100.84h0M481.34 100.62h0M482.57 101.05h0M475.02 102.08h0M476.42 102.13h0M477.54 101.9h0M478.71 102.22h0M480.32 102.06h0M482.89 102.12h0M475.15 103.18h0M476.58 103.16h0M477.65 103.45h0M479.12 103.43h0M481.46 103.15h0M482.89 103.49h0M475.25 104.63h0M476.47 104.87h0M477.77 104.44h0M478.75 104.59h0M480.28 104.37h0M481.32 104.53h0M475.27 106.04h0M476.27 105.78h0M480.25 105.85h0M476.37 107.27h0M477.48 107.34h0M478.97 107.35h0M480.21 107h0M481.52 106.89h0M479.04 108.26h0M480.06 108.55h0" stroke="#3b4b62" stroke-width="2.05" stroke-linecap="round" fill="none"/>
<rect x="470.5" y="95.5" width="17" height="7" fill="#9fa6ae" stroke="#333" stroke-width="1"/>
<rect x="471.5" y="96.5" width="15" height="5" fill="none" stroke="#fff" stroke-opacity="0.22" stroke-width="1"/>
<path d="M471.5 98.45H486.5M471.5 100.55H486.5" stroke="#fff" stroke-opacity="0.22" stroke-width="1"/>
<path d="M470.5 99.5H487.5" stroke="#2e2e2e" stroke-width="1.15"/>
<path d="M501.5 81.6V101" stroke="#444" stroke-width="1" fill="none"/>
<path d="M500.73 81.63h0M500.99 82.85h0M500.69 86.6h0M501.39 89.1h0M501.63 91.6h0M501.13 94.1h0M499.64 95.63h0M500.81 95.45h0M500.75 96.41h0M499.08 98.04h0M500.42 97.64h0M501.84 97.66h0M500.48 100.18h0M499.45 101.72h0M500.65 101.33h0M499.86 102.56h0M501.19 102.99h0M501.54 104.22h0M502.02 105.64h0M503.11 105.64h0M502.04 106.6h0M501.81 108.11h0M504.34 107.92h0M502.46 109.23h0M503.43 109.12h0M503.48 110.6h0M505 110.31h0M503.51 111.6h0M502.91 114.1h0M502.58 116.6h0M503.77 119.1h0M501.18 54.9h0" stroke="#20a8ea" stroke-width="2.05" stroke-linecap="round" fill="none"/>
<rect x="492.5" y="92.5" width="17" height="8" fill="#98d8f1" stroke="#333" stroke-width="1"/>
<rect x="493.5" y="93.5" width="15" height="6" fill="none" stroke="#fff" stroke-opacity="0.22" stroke-width="1"/>
<path d="M493.5 94.45H508.5M493.5 96.55H508.5" stroke="#fff" stroke-opacity="0.22" stroke-width="1"/>
<path d="M492.5 95.5H509.5" stroke="#2e2e2e" stroke-width="1.15"/>
<path d="M309.8 10V139H514.6" stroke="#333" stroke-width="1.5" fill="none"/>
<path d="M306.7 55H309.8M306.7 92.4H309.8M306.7 129.6H309.8M323.1 139V142.4M345.36 139V142.4M367.62 139V142.4M389.88 139V142.4M412.14 139V142.4M434.4 139V142.4M456.66 139V142.4M478.92 139V142.4M501.18 139V142.4" stroke="#333" stroke-width="1.15" fill="none"/>
<g font-size="7.8" fill="#1a1a1a" stroke="#1a1a1a" stroke-width="0.15" text-anchor="end">
<text transform="translate(303.5 57.95) scale(1 1.1)">1000</text>
<text transform="translate(303.5 95.35) scale(1 1.1)">100</text>
<text transform="translate(303.5 132.55) scale(1 1.1)">10</text>
</g>
<g font-size="7.5" fill="#1a1a1a" stroke="#1a1a1a" stroke-width="0.15" text-anchor="middle">
<text transform="translate(323.1 12.35) scale(1 1.08)">76</text>
<text transform="translate(345.36 12.35) scale(1 1.08)">125</text>
<text x="345.56" y="20.2" font-size="6.2" font-weight="bold" letter-spacing="0.4" stroke="#111" stroke-width="0.12" fill="#111">***</text>
<text transform="translate(367.62 12.35) scale(1 1.08)">148</text>
<text x="367.82" y="20.2" font-size="6.2" font-weight="bold" letter-spacing="0.4" stroke="#111" stroke-width="0.12" fill="#111">***</text>
<text transform="translate(389.88 12.35) scale(1 1.08)">61</text>
<text transform="translate(412.14 12.35) scale(1 1.08)">55</text>
<text x="411.94" y="20.55" font-size="6.5" font-style="italic" font-weight="bold" stroke="#2a2a2a" stroke-width="0.5" fill="#2a2a2a">#</text>
<text transform="translate(434.4 12.35) scale(1 1.08)">1728</text>
<text x="434.6" y="20.2" font-size="6.2" font-weight="bold" letter-spacing="0.4" stroke="#111" stroke-width="0.12" fill="#111">***</text>
<text transform="translate(456.66 12.35) scale(1 1.08)">77</text>
<text x="456.86" y="20.2" font-size="6.2" font-weight="bold" letter-spacing="0.4" stroke="#111" stroke-width="0.12" fill="#111">*</text>
<text transform="translate(478.92 12.35) scale(1 1.08)">71</text>
<text transform="translate(501.18 12.35) scale(1 1.08)">89</text>
<text x="501.38" y="20.2" font-size="6.2" font-weight="bold" letter-spacing="0.4" stroke="#111" stroke-width="0.12" fill="#111">**</text>
</g>
<text transform="translate(316 134.3) scale(1 1.07)" font-size="7.75" font-weight="bold" fill="#000" stroke="#000" stroke-width="0.3">CD103</text>
<g font-size="7.65" fill="#1a1a1a" stroke="#1a1a1a" stroke-width="0.15" text-anchor="end">
<text transform="translate(325.8 147.5) rotate(-45) scale(1 1.07)">BL</text>
<text transform="translate(348.11 147.47) rotate(-45) scale(1 1.07)">CD10<tspan font-size="4.4" dy="-3.3">−</tspan><tspan dy="3.3" dx="-0.5"> DLBCL</tspan></text>
<text transform="translate(370.42 147.45) rotate(-45) scale(1 1.07)">CD10<tspan font-size="5" dy="-3.1">+</tspan><tspan dy="3.1" dx="-0.3"> DLBCL</tspan></text>
<text transform="translate(392.73 147.43) rotate(-45) scale(1 1.07)">CLL</text>
<text transform="translate(415.04 147.4) rotate(-45) scale(1 1.07)">FL</text>
<text transform="translate(437.35 147.38) rotate(-45) scale(1 1.07)">HCL</text>
<text transform="translate(459.66 147.35) rotate(-45) scale(1 1.07)">LPL</text>
<text transform="translate(481.97 147.32) rotate(-45) scale(1 1.07)">MCL</text>
<text transform="translate(504.28 147.3) rotate(-45) scale(1 1.07)">MZL</text>
</g>
</g>
<g>
<path d="M48.5 285.7V310" stroke="#444" stroke-width="1" fill="none"/>
<path d="M49.13 285.69h0M48.17 286.95h0M47.86 287.92h0M46.95 289.6h0M48.24 289.41h0M49.1 289.16h0M46.97 290.7h0M48.21 290.57h0M48.26 292.06h0M49.57 291.97h0M48.06 293.12h0M49.11 293.08h0M47.95 294.68h0M48.12 295.43h0M48.23 296.74h0M47.92 298.17h0M49.45 298.12h0M48.1 299.18h0M46.68 300.58h0M47.94 300.92h0M49.32 300.58h0M46.78 302.06h0M47.86 301.94h0M48.34 302.99h0M48.16 304.39h0M48.46 305.7h0M48.04 308.2h0M48.1 271.4h0" stroke="#cf1038" stroke-width="2.05" stroke-linecap="round" fill="none"/>
<rect x="39.5" y="290.5" width="17" height="12" fill="#e8899b" stroke="#333" stroke-width="1"/>
<rect x="40.5" y="291.5" width="15" height="10" fill="none" stroke="#fff" stroke-opacity="0.22" stroke-width="1"/>
<path d="M40.5 295.45H55.5M40.5 297.55H55.5" stroke="#fff" stroke-opacity="0.22" stroke-width="1"/>
<path d="M39.5 296.5H56.5" stroke="#2e2e2e" stroke-width="1.15"/>
<path d="M70.5 252.9V308.1" stroke="#444" stroke-width="1" fill="none"/>
<path d="M70.1 252.9h0M70.42 255.4h0M69.99 259.15h0M68.81 260.31h0M70.32 260.42h0M71.28 260.5h0M69.84 261.65h0M70 264.15h0M68.79 265.35h0M70.45 265.41h0M67.91 266.37h0M68.92 266.41h0M70.45 266.61h0M72.79 266.4h0M68.92 267.88h0M70.48 267.7h0M70.43 269.3h0M69.1 270.61h0M71.26 270.56h0M69.12 271.8h0M70.33 271.56h0M70.48 272.68h0M69.09 274.15h0M70.33 274.26h0M71.72 273.94h0M70.03 275.12h0M71.24 275.58h0M68.98 276.95h0M70.07 276.53h0M71.72 276.83h0M69.98 277.74h0M71.33 277.82h0M69.23 279.23h0M70.35 279.34h0M70.12 280.5h0M70.26 281.82h0M70.47 283.95h0M71.71 284.18h0M68.79 285.25h0M70.07 285.41h0M71.65 285.56h0M70.36 286.48h0M69.16 287.71h0M70.21 287.64h0M71.71 288.19h0M69.23 289.16h0M70.22 288.99h0M70.02 290.49h0M71.63 290.47h0M69.19 291.84h0M70.13 292.66h0M67.61 294.28h0M69.05 293.94h0M70.39 294.24h0M71.24 294.22h0M72.61 293.93h0M67.58 295.61h0M69.07 295.68h0M70.26 295.61h0M71.5 295.42h0M72.65 295.16h0M70.25 296.44h0M70.03 297.62h0M71.59 297.75h0M70.05 299.35h0M71.31 299.32h0M69.15 300.36h0M70.01 300.3h0M71.7 300.58h0M70.02 301.71h0M71.4 301.53h0M69.08 302.8h0M70.48 302.95h0M69.88 304.15h0M70.18 306.65h0" stroke="#0f5596" stroke-width="2.05" stroke-linecap="round" fill="none"/>
<rect x="62.5" y="272.5" width="16" height="21" fill="#88a9cb" stroke="#333" stroke-width="1"/>
<rect x="63.5" y="273.5" width="14" height="19" fill="none" stroke="#fff" stroke-opacity="0.22" stroke-width="1"/>
<path d="M63.5 287.45H77.5M63.5 289.55H77.5" stroke="#fff" stroke-opacity="0.22" stroke-width="1"/>
<path d="M62.5 288.5H78.5" stroke="#2e2e2e" stroke-width="1.15"/>
<path d="M92.5 272.1V310" stroke="#444" stroke-width="1" fill="none"/>
<path d="M92.44 272.1h0M91.8 274.6h0M92.71 275.9h0M92.75 276.9h0M91.26 278.47h0M92.39 278.06h0M93.81 278.62h0M92.57 279.49h0M92.25 280.98h0M90.92 282.37h0M92.29 282.03h0M93.49 282.06h0M91.32 283.45h0M92.22 283.14h0M93.84 283.59h0M91.35 284.69h0M92.18 284.3h0M92.54 285.96h0M92.3 287.28h0M90.91 288.59h0M92.46 288.3h0M92.24 289.82h0M93.61 289.66h0M90.95 290.61h0M92.32 290.68h0M92.19 291.83h0M93.51 292.09h0M89.93 293.5h0M91.32 293.13h0M92.45 293.33h0M93.77 293.4h0M89.69 294.87h0M92.42 294.32h0M93.55 294.61h0M94.89 294.46h0M89.81 295.95h0M90.97 295.93h0M92.33 295.97h0M93.54 295.63h0M94.95 295.87h0M90.04 297.33h0M92.3 297.04h0M93.58 297.14h0M95.09 297.13h0M91.24 298.32h0M92.4 298.5h0M93.71 298.61h0M94.96 298.23h0M88.37 299.72h0M89.81 299.46h0M91.3 299.6h0M92.28 299.63h0M93.48 299.82h0M96.13 299.46h0M89.66 300.92h0M91.13 300.66h0M92.52 301.15h0M94.99 300.72h0M92.13 301.86h0M91.88 303.35h0M92.81 305.85h0M91.94 308.35h0M92.36 257.1h0M92.36 260.7h0M92.36 267.9h0" stroke="#2bb536" stroke-width="2.05" stroke-linecap="round" fill="none"/>
<rect x="84.5" y="285.5" width="16" height="12" fill="#a2dea5" stroke="#333" stroke-width="1"/>
<rect x="85.5" y="286.5" width="14" height="10" fill="none" stroke="#fff" stroke-opacity="0.22" stroke-width="1"/>
<path d="M85.5 291.45H99.5M85.5 293.55H99.5" stroke="#fff" stroke-opacity="0.22" stroke-width="1"/>
<path d="M84.5 292.5H100.5" stroke="#2e2e2e" stroke-width="1.15"/>
<path d="M114.5 264.3V308.9" stroke="#444" stroke-width="1" fill="none"/>
<path d="M114.14 264.38h0M115.27 264.43h0M114.37 265.55h0M114.16 269.3h0M114.6 272h0M115.83 271.78h0M114.59 272.91h0M114.37 274.23h0M115.73 274.09h0M113.25 275.77h0M114.27 275.69h0M115.87 275.47h0M113.42 276.99h0M114.29 276.66h0M117.14 276.66h0M109.37 278.1h0M112.23 278.03h0M112.99 278.34h0M114.36 277.94h0M116.81 277.77h0M118.42 277.81h0M109.69 279.32h0M110.71 279.19h0M111.81 279.16h0M113.41 279.04h0M114.47 279.09h0M115.95 279.08h0M116.85 279.5h0M118.08 279.03h0M119.57 279.18h0M109.32 280.71h0M110.76 280.51h0M112.03 280.34h0M113.3 280.53h0M114.6 280.51h0M115.79 280.77h0M116.91 280.6h0M118.4 280.5h0M119.56 280.53h0M108.23 281.91h0M109.61 281.8h0M110.95 281.51h0M111.96 281.85h0M113.18 282.01h0M114.28 281.7h0M115.56 281.88h0M118.28 281.93h0M119.45 281.65h0M120.5 281.89h0M105.75 282.91h0M107.02 283.1h0M108.2 283.32h0M109.37 283.01h0M110.78 283.26h0M112.08 282.94h0M113.2 282.97h0M114.26 282.78h0M115.66 282.9h0M116.85 283.03h0M118.39 283.1h0M120.94 283.02h0M122.07 283.05h0M123.35 283.14h0M105.81 284.31h0M107.1 284.2h0M109.5 284.32h0M110.81 284.13h0M112.18 284.39h0M113.03 284.29h0M114.66 284.4h0M115.88 284.12h0M117.03 284.34h0M118.36 284.32h0M120.52 284.02h0M122.03 284.44h0M123 284.54h0M108.02 285.71h0M109.25 285.8h0M110.61 285.47h0M114.28 285.75h0M115.77 285.34h0M118.47 285.31h0M119.35 285.82h0M120.97 285.49h0M106.88 286.72h0M108.1 286.59h0M109.71 286.88h0M110.81 286.92h0M112.16 286.54h0M114.45 286.85h0M115.65 286.66h0M117.2 286.69h0M118.13 286.57h0M119.73 286.74h0M120.85 286.59h0M121.76 286.6h0M103.17 287.98h0M104.72 288.02h0M105.6 288.05h0M107.07 288.29h0M110.87 288h0M113.08 287.93h0M114.35 287.89h0M115.94 288.3h0M118.23 287.8h0M119.38 287.83h0M120.94 288.34h0M122.01 288.16h0M123.48 288.27h0M124.41 288.11h0M125.51 287.82h0M103.21 289.6h0M104.71 289.4h0M105.87 289.56h0M107.14 289.06h0M108.41 289.53h0M109.68 289.57h0M110.64 289.41h0M112.14 289.16h0M113.41 289.57h0M114.37 289.05h0M115.78 289.41h0M117.23 289.23h0M118.47 289.52h0M119.44 289.36h0M122.1 289.56h0M123.1 289.25h0M124.42 289.43h0M125.94 289.15h0M110.69 290.35h0M112.06 290.5h0M113.24 290.75h0M114.3 290.52h0M115.84 290.62h0M118.48 290.78h0M110.79 291.57h0M113.4 291.72h0M114.43 291.54h0M115.88 291.74h0M118.22 291.81h0M110.79 292.9h0M111.83 293.29h0M113.33 293.33h0M114.67 293.13h0M115.91 293.05h0M117.04 292.77h0M118.28 292.92h0M110.57 294.31h0M112.16 294.42h0M113.01 294.12h0M114.67 294.29h0M115.7 294.04h0M118.3 294.58h0M110.52 295.58h0M112.12 295.69h0M113.39 295.76h0M115.84 295.34h0M117.15 295.78h0M118.4 295.61h0M111.75 296.65h0M113.44 296.86h0M114.67 296.83h0M115.81 296.64h0M116.99 296.98h0M114.39 298.01h0M115.82 298.12h0M116.83 298h0M112 299.33h0M113.13 299.26h0M114.27 299.34h0M111.77 300.67h0M114.55 300.56h0M116.9 300.67h0M113.42 301.9h0M115.88 301.81h0M117.12 302.05h0M114.68 302.97h0M112.16 304.38h0M113.4 304.19h0M114.59 304.35h0M115.53 304.46h0M117.07 304.1h0M113.36 305.57h0M114.59 305.27h0M114.43 306.8h0M114.49 316.7h0" stroke="#5a1b76" stroke-width="2.05" stroke-linecap="round" fill="none"/>
<rect x="106.5" y="281.5" width="16" height="12" fill="#b598c2" stroke="#333" stroke-width="1"/>
<rect x="107.5" y="282.5" width="14" height="10" fill="none" stroke="#fff" stroke-opacity="0.22" stroke-width="1"/>
<path d="M107.5 286.45H121.5M107.5 288.55H121.5" stroke="#fff" stroke-opacity="0.22" stroke-width="1"/>
<path d="M106.5 287.5H122.5" stroke="#2e2e2e" stroke-width="1.15"/>
<path d="M136.5 276.4V313" stroke="#444" stroke-width="1" fill="none"/>
<path d="M136.67 266.5h0M136.38 269h0M135.36 276.69h0M137.72 276.42h0M139.27 276.66h0M136.64 277.75h0M136.34 280.25h0M136.65 281.66h0M138.04 281.58h0M135.49 282.61h0M136.49 282.93h0M136.68 284h0M136.72 285.41h0M135.56 286.78h0M136.77 286.21h0M133.95 288.01h0M136.67 287.97h0M137.97 287.78h0M135.16 289.11h0M136.6 289.02h0M137.85 289.26h0M135.53 290.24h0M136.73 290.27h0M137.83 290.16h0M134.26 291.73h0M135.41 291.29h0M136.42 291.78h0M137.83 291.5h0M139.15 291.58h0M135.58 292.77h0M136.86 292.85h0M137.81 292.64h0M139.1 292.64h0M133.9 293.99h0M135.38 293.81h0M138.05 293.77h0M138.97 294.1h0M140.21 293.98h0M133.02 295.52h0M135.28 295.13h0M137.88 295.26h0M138.91 295.48h0M140.59 295.14h0M132.9 296.68h0M134.03 296.59h0M135.54 296.63h0M136.62 296.63h0M138.02 296.41h0M139.31 296.27h0M128.99 298.04h0M131.73 297.55h0M134.07 297.99h0M135.49 298.04h0M137.62 297.59h0M139.24 297.86h0M140.33 297.69h0M142.91 297.57h0M143.87 297.77h0M124.1 298.76h0M125.29 299.3h0M126.62 299.12h0M127.89 298.73h0M129.21 298.84h0M131.38 299.18h0M133.08 298.87h0M134.21 299.06h0M136.85 299.13h0M138.08 298.94h0M141.72 298.8h0M143.03 298.81h0M144.2 299.15h0M145.51 299.22h0M146.76 298.92h0M147.84 298.97h0M149.25 299.28h0M123.97 300.08h0M125.14 300.04h0M126.55 299.98h0M127.92 300.03h0M129.21 300.53h0M130.37 300.22h0M131.84 300.38h0M132.93 300.27h0M134.33 300.17h0M135.26 300.29h0M136.79 300.3h0M137.98 300.18h0M140.46 300.33h0M141.56 300.18h0M142.79 299.96h0M144.07 300.52h0M146.49 300.47h0M147.8 300.32h0M149.11 300.06h0M130.47 301.5h0M131.7 301.32h0M133.06 301.74h0M133.91 301.27h0M135.27 301.7h0M137.95 301.51h0M140.41 301.79h0M143.01 301.65h0M129.34 302.84h0M130.37 302.84h0M131.52 302.96h0M132.64 302.53h0M134.25 302.81h0M135.59 302.65h0M136.49 302.78h0M137.7 302.93h0M138.97 302.82h0M140.5 302.92h0M141.86 302.94h0M144.11 302.64h0M129.14 304.24h0M131.73 304.02h0M132.82 304.16h0M135.58 304.16h0M136.49 303.87h0M137.63 303.7h0M139.13 303.73h0M140.19 304.21h0M141.5 303.95h0M142.95 303.92h0M143.91 304.18h0M129.02 305.35h0M130.56 304.97h0M131.79 305.05h0M132.85 305.49h0M134.24 305.34h0M136.76 305.41h0M137.7 305.43h0M140.58 305.41h0M141.71 305.21h0M142.73 305.16h0M132.91 306.42h0M133.89 306.25h0M135.2 306.57h0M136.71 306.37h0M138.09 306.67h0M139.07 306.66h0M140.54 306.58h0M135.44 307.88h0M136.51 307.78h0M138.06 307.86h0M139.37 307.58h0M134.04 309.07h0M136.68 308.95h0M137.97 309.04h0M139.08 309.11h0M134.28 310.43h0M136.47 310.02h0M137.83 310.2h0M138.95 310.23h0M136.59 311.65h0M136.11 312.75h0M136.62 316.9h0M136.62 330.7h0" stroke="#ff8d0a" stroke-width="2.05" stroke-linecap="round" fill="none"/>
<rect x="128.5" y="293.5" width="16" height="10" fill="#ffcd82" stroke="#333" stroke-width="1"/>
<rect x="129.5" y="294.5" width="14" height="8" fill="none" stroke="#fff" stroke-opacity="0.22" stroke-width="1"/>
<path d="M129.5 297.45H143.5M129.5 299.55H143.5" stroke="#fff" stroke-opacity="0.22" stroke-width="1"/>
<path d="M128.5 298.5H144.5" stroke="#2e2e2e" stroke-width="1.15"/>
<path d="M158.5 228.3V263.1" stroke="#444" stroke-width="1" fill="none"/>
<path d="M158.56 229.55h0M158.96 232.04h0M156.21 233.02h0M157.62 233.16h0M158.68 233.52h0M159.97 233.14h0M156.05 234.55h0M158.99 234.45h0M159.79 234.77h0M156.35 235.58h0M158.52 236.01h0M160.01 236.04h0M161.1 236.08h0M156.06 236.96h0M157.45 237h0M158.89 237.05h0M159.78 236.76h0M161.5 236.95h0M156.4 238.58h0M157.36 238.09h0M158.57 238.17h0M159.82 238.43h0M161.35 238.44h0M156.44 239.82h0M157.61 239.74h0M158.61 239.83h0M159.8 239.48h0M156.41 240.61h0M157.51 240.78h0M158.89 241h0M159.98 241.01h0M161.01 240.57h0M156.22 242.18h0M157.53 242.09h0M160.13 241.82h0M161.01 241.83h0M156.43 243.58h0M158.62 243.07h0M160.01 243.09h0M161.41 243.54h0M157.36 244.43h0M158.99 244.42h0M160.18 244.47h0M161.48 244.28h0M158.96 246.07h0M159.76 245.6h0M158.59 247.13h0M157.32 248.59h0M158.81 248.05h0M157.54 249.76h0M158.56 249.54h0M159.95 249.26h0M158.82 250.81h0M157.71 252.04h0M158.85 252.02h0M159.9 252h0M158.6 253.46h0M159.89 253.59h0M159.04 254.51h0M160.15 254.52h0M159.72 255.8h0M159.31 258.3h0M158.75 271.9h0" stroke="#0f6c55" stroke-width="2.05" stroke-linecap="round" fill="none"/>
<rect x="150.5" y="237.5" width="16" height="12" fill="#8cb9ab" stroke="#333" stroke-width="1"/>
<rect x="151.5" y="238.5" width="14" height="10" fill="none" stroke="#fff" stroke-opacity="0.22" stroke-width="1"/>
<path d="M151.5 241.45H165.5M151.5 243.55H165.5" stroke="#fff" stroke-opacity="0.22" stroke-width="1"/>
<path d="M150.5 242.5H166.5" stroke="#2e2e2e" stroke-width="1.15"/>
<path d="M180.5 280.3V309.3" stroke="#444" stroke-width="1" fill="none"/>
<path d="M180.72 280.49h0M181.9 280.48h0M181.19 282h0M180.85 284.5h0M179.76 286.81h0M181.12 287.21h0M175.95 288.07h0M176.98 288.25h0M178.29 288.46h0M179.86 288.11h0M180.98 288.46h0M183.62 288.08h0M184.74 288.41h0M178.6 289.53h0M179.55 289.76h0M182.22 289.27h0M183.48 289.4h0M184.42 289.6h0M177.27 290.89h0M178.18 290.93h0M179.63 291.04h0M181.12 291.03h0M183.36 291h0M184.58 290.97h0M178.55 292.09h0M181.12 291.75h0M182.07 292.06h0M183.37 292.28h0M184.82 291.81h0M176.96 293.19h0M178.4 293.29h0M179.67 293.24h0M180.84 293.3h0M182.36 293.28h0M183.2 293.55h0M184.44 293.33h0M177.02 294.44h0M178.35 294.34h0M181.02 294.76h0M181.88 294.68h0M183.4 294.73h0M184.74 294.39h0M179.74 296.04h0M181.11 295.48h0M182.14 295.63h0M184.49 295.9h0M177.16 297.22h0M178.29 297.15h0M181.07 297.14h0M181.93 297.14h0M183.42 296.78h0M184.52 296.84h0M177.31 298.03h0M179.71 298.1h0M181 298.28h0M182.35 298.18h0M184.69 298.48h0M178.28 299.58h0M179.85 299.21h0M181.05 299.37h0M182.3 299.52h0M180.73 300.86h0M182.16 300.59h0M179.57 301.89h0M180.69 301.91h0M178.28 303.34h0M179.48 303.16h0M180.74 303.05h0M181.91 303.05h0M183.35 303h0M180.67 304.67h0M182.22 304.53h0M180.9 305.75h0M180.6 308.25h0M180.88 272.1h0M180.88 313.9h0" stroke="#8f86cd" stroke-width="2.05" stroke-linecap="round" fill="none"/>
<rect x="172.5" y="289.5" width="17" height="9" fill="#c4bfe4" stroke="#333" stroke-width="1"/>
<rect x="173.5" y="290.5" width="15" height="7" fill="none" stroke="#fff" stroke-opacity="0.22" stroke-width="1"/>
<path d="M173.5 293.45H188.5M173.5 295.55H188.5" stroke="#fff" stroke-opacity="0.22" stroke-width="1"/>
<path d="M172.5 294.5H189.5" stroke="#2e2e2e" stroke-width="1.15"/>
<path d="M203.5 272.9V311.7" stroke="#444" stroke-width="1" fill="none"/>
<path d="M203.26 276h0M202.82 281h0M202.69 283.5h0M202.66 286h0M203.09 287.18h0M204.11 287.36h0M200.71 288.54h0M201.72 288.37h0M202.84 288.46h0M204.26 288.41h0M205.45 288.2h0M200.44 289.82h0M201.97 290.02h0M203.09 289.46h0M204.45 289.87h0M205.31 289.61h0M201.64 291.21h0M203.17 290.71h0M200.69 291.98h0M202.79 292.01h0M205.55 292.09h0M200.69 293.77h0M201.64 293.24h0M202.96 293.3h0M204.38 293.28h0M200.64 294.74h0M201.75 294.79h0M202.81 294.46h0M204.43 294.55h0M205.39 294.93h0M200.75 295.81h0M202.78 296.25h0M205.46 295.9h0M200.38 297.11h0M201.55 297.09h0M203.22 297.13h0M204.15 297.45h0M200.57 298.24h0M201.71 298.22h0M202.9 298.5h0M204.41 298.79h0M205.33 298.76h0M200.43 299.94h0M201.57 299.75h0M203.14 299.81h0M205.6 299.97h0M200.64 301.09h0M201.53 301.29h0M202.99 300.86h0M204.14 300.83h0M205.49 301.22h0M200.4 302.06h0M201.92 302.17h0M202.84 302.39h0M204.27 302.19h0M205.3 302.23h0M200.63 303.68h0M201.52 303.29h0M205.33 303.24h0M201.81 304.74h0M202.8 304.79h0M204.03 304.59h0M205.67 304.99h0M199.23 306.25h0M200.64 306.2h0M201.53 306.09h0M203.19 305.88h0M204.32 306h0M205.45 306.2h0M206.74 306.14h0M200.52 307.07h0M201.74 307.02h0M202.86 306.97h0M204.18 306.96h0M205.51 307.27h0M202.95 308.38h0M201.92 309.86h0M203.2 309.62h0M204.01 310.01h0M203.01 270.7h0M203.01 328.1h0M203.01 331.1h0" stroke="#3b4b62" stroke-width="2.05" stroke-linecap="round" fill="none"/>
<rect x="194.5" y="291.5" width="17" height="13" fill="#9fa6ae" stroke="#333" stroke-width="1"/>
<rect x="195.5" y="292.5" width="15" height="11" fill="none" stroke="#fff" stroke-opacity="0.22" stroke-width="1"/>
<path d="M195.5 297.45H210.5M195.5 299.55H210.5" stroke="#fff" stroke-opacity="0.22" stroke-width="1"/>
<path d="M194.5 298.5H211.5" stroke="#2e2e2e" stroke-width="1.15"/>
<path d="M225.5 263.6V304.3" stroke="#444" stroke-width="1" fill="none"/>
<path d="M224.93 263.6h0M225.1 266.1h0M224.07 271.3h0M225.15 270.92h0M226.14 270.92h0M225.53 272.35h0M225.33 274.85h0M223.93 277.1h0M225.03 277.46h0M226.18 277.56h0M223.84 278.46h0M225.37 278.81h0M226.26 278.33h0M225.14 279.6h0M223.94 281.31h0M225.25 281.18h0M226.2 280.99h0M223.67 282.48h0M225.06 282.48h0M223.9 283.71h0M225.16 283.55h0M225.03 285.11h0M226.23 284.78h0M223.67 287.53h0M226.47 287.57h0M223.9 288.61h0M225.11 288.68h0M223.75 290.03h0M225.22 289.65h0M226.42 289.83h0M223.78 291.01h0M224.97 291h0M225.13 292.29h0M226.2 292.14h0M224.12 293.81h0M225.25 293.39h0M226.19 293.41h0M225.28 295.07h0M224.96 296.23h0M225.14 297.35h0M225.41 299.85h0M224.81 302.35h0M226.42 303.65h0M225.14 251.9h0" stroke="#20a8ea" stroke-width="2.05" stroke-linecap="round" fill="none"/>
<rect x="216.5" y="277.5" width="17" height="16" fill="#98d8f1" stroke="#333" stroke-width="1"/>
<rect x="217.5" y="278.5" width="15" height="14" fill="none" stroke="#fff" stroke-opacity="0.22" stroke-width="1"/>
<path d="M217.5 286.45H232.5M217.5 288.55H232.5" stroke="#fff" stroke-opacity="0.22" stroke-width="1"/>
<path d="M216.5 287.5H233.5" stroke="#2e2e2e" stroke-width="1.15"/>
<path d="M35 210V335.7H238.4" stroke="#333" stroke-width="1.5" fill="none"/>
<path d="M31.9 242.6H35M31.9 268.4H35M31.9 294.2H35M31.9 320H35M48.1 335.7V339.1M70.23 335.7V339.1M92.36 335.7V339.1M114.49 335.7V339.1M136.62 335.7V339.1M158.75 335.7V339.1M180.88 335.7V339.1M203.01 335.7V339.1M225.14 335.7V339.1" stroke="#333" stroke-width="1.15" fill="none"/>
<g font-size="7.8" fill="#1a1a1a" stroke="#1a1a1a" stroke-width="0.15" text-anchor="end">
<text transform="translate(28.7 245.55) scale(1 1.1)">10000</text>
<text transform="translate(28.7 271.35) scale(1 1.1)">1000</text>
<text transform="translate(28.7 297.15) scale(1 1.1)">100</text>
<text transform="translate(28.7 322.95) scale(1 1.1)">10</text>
</g>
<g font-size="7.5" fill="#1a1a1a" stroke="#1a1a1a" stroke-width="0.15" text-anchor="middle">
<text transform="translate(48.1 212.7) scale(1 1.1)">86</text>
<text transform="translate(70.23 212.7) scale(1 1.1)">163</text>
<text x="70.43" y="219.5" font-size="6.2" font-weight="bold" letter-spacing="0.4" stroke="#111" stroke-width="0.12" fill="#111">***</text>
<text transform="translate(92.36 212.7) scale(1 1.1)">119</text>
<text x="92.56" y="219.5" font-size="6.2" font-weight="bold" letter-spacing="0.4" stroke="#111" stroke-width="0.12" fill="#111">**</text>
<text transform="translate(114.49 212.7) scale(1 1.1)">190</text>
<text x="114.69" y="219.5" font-size="6.2" font-weight="bold" letter-spacing="0.4" stroke="#111" stroke-width="0.12" fill="#111">***</text>
<text transform="translate(136.62 212.7) scale(1 1.1)">68</text>
<text x="136.42" y="220.35" font-size="6.5" font-style="italic" font-weight="bold" stroke="#2a2a2a" stroke-width="0.5" fill="#2a2a2a">#</text>
<text transform="translate(158.75 212.7) scale(1 1.1)">10547</text>
<text x="158.95" y="219.5" font-size="6.2" font-weight="bold" letter-spacing="0.4" stroke="#111" stroke-width="0.12" fill="#111">***</text>
<text transform="translate(180.88 212.7) scale(1 1.1)">113</text>
<text transform="translate(203.01 212.7) scale(1 1.1)">69</text>
<text transform="translate(225.14 212.7) scale(1 1.1)">183</text>
<text x="225.34" y="219.5" font-size="6.2" font-weight="bold" letter-spacing="0.4" stroke="#111" stroke-width="0.12" fill="#111">*</text>
</g>
<text transform="translate(41.2 331) scale(1 1.07)" font-size="7.75" font-weight="bold" fill="#000" stroke="#000" stroke-width="0.3">CD11c</text>
<g font-size="7.65" fill="#1a1a1a" stroke="#1a1a1a" stroke-width="0.15" text-anchor="end">
<text transform="translate(51.1 344.6) rotate(-45) scale(1 1.07)">BL</text>
<text transform="translate(73.17 344.57) rotate(-45) scale(1 1.07)">CD10<tspan font-size="4.4" dy="-3.3">−</tspan><tspan dy="3.3" dx="-0.5"> DLBCL</tspan></text>
<text transform="translate(95.23 344.55) rotate(-45) scale(1 1.07)">CD10<tspan font-size="5" dy="-3.1">+</tspan><tspan dy="3.1" dx="-0.3"> DLBCL</tspan></text>
<text transform="translate(117.3 344.52) rotate(-45) scale(1 1.07)">CLL</text>
<text transform="translate(139.37 344.5) rotate(-45) scale(1 1.07)">FL</text>
<text transform="translate(161.44 344.47) rotate(-45) scale(1 1.07)">HCL</text>
<text transform="translate(183.5 344.45) rotate(-45) scale(1 1.07)">LPL</text>
<text transform="translate(205.57 344.42) rotate(-45) scale(1 1.07)">MCL</text>
<text transform="translate(227.64 344.4) rotate(-45) scale(1 1.07)">MZL</text>
</g>
</g>
<g>
<path d="M323.5 248V283.7" stroke="#444" stroke-width="1" fill="none"/>
<path d="M322.92 248h0M322.78 250.5h0M323.84 253.16h0M324.87 253.14h0M322.88 254.25h0M321.7 255.55h0M323.1 255.34h0M322.83 256.77h0M321.72 257.74h0M323.01 258.26h0M321.7 259.23h0M323.16 259.35h0M321.79 260.73h0M322.93 260.32h0M324.49 260.3h0M321.86 262.01h0M322.8 261.7h0M324.01 261.88h0M321.75 263.16h0M322.76 262.84h0M323.01 264.29h0M324.1 264.16h0M321.67 265.41h0M322.87 265.56h0M321.94 266.73h0M323.2 266.55h0M324.02 266.63h0M321.51 268.17h0M322.78 267.9h0M321.75 269.52h0M324.37 269.15h0M321.73 270.31h0M323.23 270.25h0M323.14 272.02h0M321.57 273.03h0M322.95 274.25h0M323.33 276.75h0M323.03 280.5h0M323 293h0" stroke="#cf1038" stroke-width="2.05" stroke-linecap="round" fill="none"/>
<rect x="314.5" y="257.5" width="17" height="13" fill="#e8899b" stroke="#333" stroke-width="1"/>
<rect x="315.5" y="258.5" width="15" height="11" fill="none" stroke="#fff" stroke-opacity="0.22" stroke-width="1"/>
<path d="M315.5 261.45H330.5M315.5 263.55H330.5" stroke="#fff" stroke-opacity="0.22" stroke-width="1"/>
<path d="M314.5 262.5H331.5" stroke="#2e2e2e" stroke-width="1.15"/>
<path d="M345.5 245.1V285.9" stroke="#444" stroke-width="1" fill="none"/>
<path d="M345.16 245.1h0M345.25 246.64h0M346.61 246.31h0M345.22 248.71h0M346.26 248.73h0M344.93 250.25h0M344.1 251.5h0M345.22 251.42h0M345.02 252.58h0M346.56 252.6h0M345.19 253.99h0M345 254.9h0M343.89 256.12h0M345.27 256.39h0M346.55 256.05h0M343.77 257.7h0M345.3 257.83h0M345.13 258.71h0M344.88 259.96h0M346.18 260.14h0M345.65 261.35h0M345.2 263.85h0M344.78 266.35h0M345.21 268.85h0M344.88 271.35h0M344.91 273.85h0M346.28 281.59h0M345.35 282.41h0M345.41 283.85h0M345.07 285.04h0M346.22 284.99h0M344.9 286.35h0M344.22 297.3h0M346.02 297.3h0M345.12 305.1h0M345.12 307.3h0M345.12 309.4h0" stroke="#0f5596" stroke-width="2.05" stroke-linecap="round" fill="none"/>
<rect x="336.5" y="256.5" width="17" height="16" fill="#88a9cb" stroke="#333" stroke-width="1"/>
<rect x="337.5" y="257.5" width="15" height="14" fill="none" stroke="#fff" stroke-opacity="0.22" stroke-width="1"/>
<path d="M337.5 263.45H352.5M337.5 265.55H352.5" stroke="#fff" stroke-opacity="0.22" stroke-width="1"/>
<path d="M336.5 264.5H353.5" stroke="#2e2e2e" stroke-width="1.15"/>
<path d="M367.5 241.6V288" stroke="#444" stroke-width="1" fill="none"/>
<path d="M366.94 241.6h0M367.6 244.1h0M366.91 246.6h0M367.02 249.1h0M367.03 251.6h0M366.91 254.1h0M367.17 256.6h0M367.15 259.1h0M367.5 261.6h0M367.27 264.1h0M365.94 265.33h0M367.47 265.64h0M368.69 265.1h0M367.45 266.88h0M366 268.15h0M367.01 267.97h0M365.86 269.12h0M367.3 269.29h0M368.39 268.96h0M365.87 270.35h0M367.11 270.31h0M367.28 271.72h0M368.44 271.81h0M366.13 272.65h0M367.14 272.93h0M368.65 272.82h0M367.25 274.34h0M367.66 275.35h0M367.42 277.85h0M366.88 280.35h0M368.12 282.85h0M367.41 285.35h0M367.24 287.85h0M367.24 228.4h0M367.24 292.3h0M367.24 294.5h0M367.24 296.6h0M367.24 299h0" stroke="#2bb536" stroke-width="2.05" stroke-linecap="round" fill="none"/>
<rect x="359.5" y="259.5" width="16" height="13" fill="#a2dea5" stroke="#333" stroke-width="1"/>
<rect x="360.5" y="260.5" width="14" height="11" fill="none" stroke="#fff" stroke-opacity="0.22" stroke-width="1"/>
<path d="M360.5 264.45H374.5M360.5 266.55H374.5" stroke="#fff" stroke-opacity="0.22" stroke-width="1"/>
<path d="M359.5 265.5H375.5" stroke="#2e2e2e" stroke-width="1.15"/>
<path d="M389.5 234.4V286.6" stroke="#444" stroke-width="1" fill="none"/>
<path d="M389.22 234.4h0M388.97 236.9h0M389.06 239.4h0M389.75 241.9h0M388.22 244.1h0M389.15 244.58h0M387.11 245.47h0M387.86 245.82h0M389.59 245.38h0M390.39 245.69h0M391.9 245.39h0M383.3 246.69h0M384.44 247.16h0M385.53 246.61h0M388.12 246.66h0M390.47 246.81h0M391.83 247.1h0M393.23 247.04h0M395.53 247.02h0M384.18 248.2h0M386.65 248.09h0M388.32 248.19h0M389.11 248.35h0M390.86 248.35h0M391.63 248.17h0M393.31 247.91h0M394.47 248.04h0M384.23 249.39h0M385.51 249.33h0M386.77 249.39h0M388.34 249.31h0M389.34 249.33h0M390.42 249.32h0M391.86 249.28h0M392.89 249.67h0M394.26 249.2h0M380.86 250.37h0M381.74 250.9h0M384.16 250.52h0M387.03 250.84h0M388.3 250.91h0M389.33 250.63h0M391.98 250.63h0M393.08 250.63h0M394.13 250.39h0M395.5 250.38h0M397.88 250.42h0M376.87 251.68h0M378.26 252h0M379.45 251.88h0M380.85 252.1h0M382.01 252.13h0M384.55 251.65h0M386.65 252.09h0M388.05 251.89h0M389.24 252.14h0M390.85 252.01h0M391.96 251.78h0M393.23 252.19h0M394.28 252h0M395.74 252.01h0M396.93 252.07h0M398.28 252h0M399.45 252.09h0M400.5 252.02h0M401.62 251.73h0M376.68 253.35h0M378 253.29h0M379.55 253.09h0M380.67 253.13h0M381.77 252.96h0M382.89 253.07h0M384.5 253.19h0M386.64 253.02h0M387.94 253.16h0M389.57 253.06h0M390.41 253.18h0M391.81 253.03h0M393.28 253.2h0M396.7 252.99h0M398.12 253.28h0M399.47 252.86h0M400.71 253.43h0M401.92 253.27h0M380.59 254.63h0M382.08 254.19h0M383.33 254.64h0M384.15 254.39h0M385.76 254.22h0M386.73 254.67h0M389.27 254.34h0M390.48 254.38h0M391.88 254.15h0M392.9 254.26h0M394.14 254.39h0M396.89 254.54h0M397.93 254.46h0M380.48 255.57h0M381.63 255.65h0M383.32 255.52h0M384.31 255.6h0M385.68 255.67h0M386.98 255.54h0M388.07 255.91h0M389.6 255.64h0M390.69 255.56h0M392.05 255.87h0M392.9 255.68h0M394.4 255.35h0M395.45 255.6h0M396.76 255.84h0M398.07 255.76h0M379.29 256.8h0M380.67 256.74h0M381.88 256.71h0M383.27 256.8h0M385.81 257.11h0M392.09 257.17h0M393.25 257.08h0M394.33 256.96h0M396.78 257.15h0M398.04 257.06h0M399.53 256.82h0M382.99 258.44h0M385.85 257.89h0M386.62 258.02h0M388.29 258.27h0M389.2 258.12h0M390.84 258.37h0M391.83 258.27h0M393.23 258.37h0M395.65 258.31h0M384.3 259.5h0M385.42 259.21h0M386.95 259.5h0M388.12 259.28h0M390.51 259.25h0M391.63 259.58h0M393.24 259.11h0M394.39 259.64h0M385.56 260.64h0M386.9 260.59h0M388.01 260.65h0M390.77 260.58h0M391.98 260.85h0M393.03 260.8h0M386.76 261.99h0M388.21 262.17h0M389.11 261.7h0M390.71 261.66h0M391.99 261.87h0M388.05 262.89h0M389.54 262.87h0M390.42 263.15h0M389.02 264.4h0M389.57 266.9h0M387.93 269.55h0M389.13 269.48h0M390.69 269.44h0M386.82 270.42h0M389.41 270.75h0M391.69 270.61h0M389.13 271.81h0M386.99 272.9h0M389.26 273.01h0M390.56 273.36h0M388.12 274.55h0M389.35 274.42h0M390.6 274.38h0M387.08 275.45h0M387.93 275.5h0M389.32 275.91h0M391.82 275.75h0M389.3 276.9h0M389.72 279.4h0M389.49 281.9h0M389.75 284.4h0" stroke="#5a1b76" stroke-width="2.05" stroke-linecap="round" fill="none"/>
<rect x="381.5" y="251.5" width="16" height="8" fill="#b598c2" stroke="#333" stroke-width="1"/>
<rect x="382.5" y="252.5" width="14" height="6" fill="none" stroke="#fff" stroke-opacity="0.22" stroke-width="1"/>
<path d="M382.5 253.45H396.5M382.5 255.55H396.5" stroke="#fff" stroke-opacity="0.22" stroke-width="1"/>
<path d="M381.5 254.5H397.5" stroke="#2e2e2e" stroke-width="1.15"/>
<path d="M411.5 241.6V300.9" stroke="#444" stroke-width="1" fill="none"/>
<path d="M411.5 241.6h0M411.52 244.1h0M411.16 246.6h0M412.66 248.9h0M411.42 250.23h0M411.66 251.81h0M411.47 253.09h0M407.72 254.21h0M410.14 254.04h0M411.54 254.18h0M412.96 253.86h0M414.06 254h0M407.67 255.26h0M409.2 255.39h0M410.01 255.23h0M411.34 255.08h0M412.64 255.25h0M410.37 256.74h0M411.45 256.54h0M412.57 256.52h0M408.87 257.67h0M410.42 258.08h0M411.34 257.6h0M412.69 257.71h0M413.85 257.63h0M407.54 259.17h0M408.82 258.82h0M410.41 259.27h0M411.66 259.27h0M413.97 258.97h0M415.36 259.1h0M408.86 260.6h0M411.49 260.16h0M412.71 260.59h0M415.14 260.62h0M407.93 261.8h0M408.96 261.87h0M411.24 261.41h0M412.97 261.5h0M414.08 261.47h0M415.15 261.56h0M407.54 262.64h0M408.82 262.8h0M409.98 262.9h0M411.6 262.84h0M412.64 262.88h0M413.9 262.64h0M415.12 263.09h0M407.88 263.85h0M409.16 263.9h0M410.07 264.34h0M411.53 264.4h0M413.84 264.22h0M415.41 263.96h0M407.95 265.27h0M409.07 265.17h0M410.16 265.51h0M414.03 265.52h0M415.33 265.19h0M407.63 266.55h0M410.19 266.39h0M411.48 266.86h0M412.64 266.34h0M413.86 266.61h0M415.08 266.46h0M408.93 267.87h0M410.1 267.86h0M411.61 267.69h0M412.77 267.86h0M414.19 267.84h0M415.18 268.09h0M409.12 268.97h0M410.21 268.98h0M411.48 268.8h0M414.01 269.25h0M411.7 270.34h0M412.82 270.59h0M414.2 270.23h0M411.63 271.49h0M412.62 271.82h0M413.89 271.75h0M410.45 272.7h0M411.33 272.99h0M412.76 272.95h0M409 274.15h0M411.66 273.9h0M412.59 273.91h0M414.02 273.93h0M409.13 275.29h0M410.18 275.27h0M411.6 275.58h0M412.53 275.51h0M413.96 275.29h0M409.11 276.72h0M410.35 276.34h0M411.27 276.52h0M412.87 276.34h0M413.92 276.32h0M408.98 277.67h0M411.26 277.96h0M412.53 277.74h0M413.98 277.61h0M408.92 278.83h0M409.99 279h0M411.65 278.96h0M412.58 278.9h0M410.06 280.34h0M411.39 280.31h0M412.81 280.43h0M413.94 280.15h0M409.01 281.7h0M410 281.88h0M411.56 281.51h0M413.9 281.31h0M408.94 282.74h0M410.34 282.84h0M411.56 282.8h0M412.84 282.77h0M414.06 283.06h0M409.06 284.16h0M410.08 284.11h0M411.52 283.88h0M412.52 283.85h0M409.13 285.08h0M410.02 285.16h0M411.53 285.36h0M413.83 285.51h0M411.71 286.79h0M412.84 286.84h0M410.14 287.63h0M412.75 287.93h0M410.17 289.1h0M411.62 289.07h0M412.53 288.88h0M410.1 290.06h0M411.57 290.09h0M412.97 290.64h0M409.15 291.38h0M410.33 291.68h0M411.69 291.47h0M412.77 291.4h0M414 291.38h0M411.5 293.04h0M411.46 294.1h0M411.42 296.6h0M410.11 300.46h0M411.62 300.61h0M412.92 300.16h0M411.48 330.6h0" stroke="#ff8d0a" stroke-width="2.05" stroke-linecap="round" fill="none"/>
<rect x="403.5" y="261.5" width="16" height="18" fill="#ffcd82" stroke="#333" stroke-width="1"/>
<rect x="404.5" y="262.5" width="14" height="16" fill="none" stroke="#fff" stroke-opacity="0.22" stroke-width="1"/>
<path d="M404.5 268.45H418.5M404.5 270.55H418.5" stroke="#fff" stroke-opacity="0.22" stroke-width="1"/>
<path d="M403.5 269.5H419.5" stroke="#2e2e2e" stroke-width="1.15"/>
<path d="M433.5 258.3V317" stroke="#444" stroke-width="1" fill="none"/>
<path d="M433.23 258.3h0M433.75 260.8h0M434.32 263.3h0M433.85 265.8h0M433.73 268.3h0M432.2 269.42h0M433.65 269.28h0M433.66 270.91h0M433.79 272.14h0M434.94 272.25h0M433.43 273.44h0M434.77 273.57h0M436.3 273.05h0M433.85 274.6h0M434.92 274.8h0M433.44 276.06h0M435.05 276.09h0M433.83 277.18h0M434.69 277.22h0M432.35 278.02h0M433.55 278.18h0M433.56 279.26h0M434.97 279.57h0M432.41 280.56h0M433.52 280.68h0M432.23 282.34h0M434.6 282.27h0M433.36 283.04h0M434.88 283.27h0M432.14 284.43h0M433.46 284.51h0M434.99 284.73h0M433.48 285.54h0M433.41 287.2h0M434.93 286.82h0M433.48 288.21h0M432.29 289.29h0M433.37 290.91h0M433.36 291.93h0M432.37 293.49h0M433.74 293.47h0M432.6 294.37h0M433.66 294.47h0M434.89 294.3h0M434.74 295.91h0M433.55 296.98h0M433.59 298.3h0M433.83 300.8h0M433.43 303.09h0M433.58 304.55h0M433.5 305.8h0M434 308.3h0M433.64 310.98h0M433.61 312.05h0M434.05 315.8h0M433.83 316.95h0" stroke="#0f6c55" stroke-width="2.05" stroke-linecap="round" fill="none"/>
<rect x="425.5" y="276.5" width="16" height="19" fill="#8cb9ab" stroke="#333" stroke-width="1"/>
<rect x="426.5" y="277.5" width="14" height="17" fill="none" stroke="#fff" stroke-opacity="0.22" stroke-width="1"/>
<path d="M426.5 287.45H440.5M426.5 289.55H440.5" stroke="#fff" stroke-opacity="0.22" stroke-width="1"/>
<path d="M425.5 288.5H441.5" stroke="#2e2e2e" stroke-width="1.15"/>
<path d="M455.5 249.4V307.5" stroke="#444" stroke-width="1" fill="none"/>
<path d="M455.8 249.48h0M457.22 249.66h0M456.18 250.65h0M455.94 254.4h0M456.07 258.15h0M455.76 260.65h0M455.13 263.15h0M453.17 264.65h0M454.36 264.27h0M455.54 264.25h0M458.23 264.1h0M455.51 265.55h0M454.62 266.66h0M455.83 267.01h0M457.15 266.8h0M454.53 268.19h0M455.85 268.3h0M456.98 269.26h0M455.75 270.36h0M457 270.78h0M455.7 271.83h0M456.82 271.97h0M455.58 273.04h0M456.81 272.86h0M455.79 274.56h0M455.91 275.67h0M454.72 276.67h0M455.58 276.96h0M455.8 278.22h0M455.55 279.4h0M456.84 279.56h0M455.8 280.77h0M456.96 280.72h0M455.52 282.16h0M454.7 283.39h0M455.72 283.11h0M455.62 284.24h0M454.32 285.86h0M455.7 285.57h0M455.68 286.79h0M454.57 288.15h0M455.5 288.42h0M457 288.26h0M453 289.25h0M455.47 289.25h0M457.97 289.15h0M455.92 290.54h0M457.18 290.61h0M454.44 292.14h0M455.93 291.85h0M455.33 293.15h0M454.49 294.17h0M455.53 294.31h0M453.32 295.81h0M455.89 295.85h0M457.12 295.61h0M457.99 295.53h0M455.13 296.9h0M455.39 305.65h0" stroke="#8f86cd" stroke-width="2.05" stroke-linecap="round" fill="none"/>
<rect x="447.5" y="264.5" width="16" height="21" fill="#c4bfe4" stroke="#333" stroke-width="1"/>
<rect x="448.5" y="265.5" width="14" height="19" fill="none" stroke="#fff" stroke-opacity="0.22" stroke-width="1"/>
<path d="M448.5 276.45H462.5M448.5 278.55H462.5" stroke="#fff" stroke-opacity="0.22" stroke-width="1"/>
<path d="M447.5 277.5H463.5" stroke="#2e2e2e" stroke-width="1.15"/>
<path d="M477.5 233V294.4" stroke="#444" stroke-width="1" fill="none"/>
<path d="M477.45 233h0M477.49 235.5h0M477.63 238h0M477.8 240.5h0M478.02 243h0M476.41 244.39h0M477.69 244.38h0M478.02 245.36h0M476.4 246.51h0M478.06 246.94h0M478.9 246.62h0M477.69 248.07h0M475.34 249.09h0M476.41 249.04h0M477.64 249.13h0M479.12 249.36h0M480.2 248.99h0M473.87 250.74h0M475.44 250.43h0M476.52 250.61h0M477.76 250.78h0M479.28 250.65h0M480.11 250.56h0M481.6 250.35h0M475.48 251.95h0M476.4 251.7h0M477.72 251.53h0M479.17 251.65h0M480.27 251.52h0M481.65 251.56h0M474.32 253.03h0M475.14 253.1h0M476.76 252.81h0M477.93 252.83h0M478.86 253.2h0M480.27 253.25h0M475.33 254.49h0M476.39 253.96h0M477.98 254.5h0M480.45 254.18h0M476.64 255.8h0M477.99 255.76h0M480.47 255.3h0M475.29 256.69h0M476.83 256.61h0M477.68 256.67h0M480.33 256.84h0M475.19 258.26h0M477.67 258.28h0M480.27 258.18h0M475.21 259.13h0M477.69 259.44h0M479.3 259.06h0M480.29 259.48h0M475.17 260.56h0M476.75 260.54h0M477.85 260.58h0M478.99 260.78h0M480.18 260.35h0M478.02 261.83h0M479.26 261.9h0M477.6 263.01h0M478.07 264h0M479.21 264.26h0M477.96 265.38h0M479.11 265.29h0M478.07 266.8h0M477.64 268.06h0M477.85 269.11h0M478.13 270.5h0M477.25 273h0M477.64 274.2h0M477.76 275.78h0M478.9 275.64h0M475.2 276.67h0M476.55 276.62h0M477.82 276.93h0M479.26 276.59h0M475.49 278.11h0M478.04 278.24h0M479.24 278.14h0M480.21 277.81h0M476.38 279.18h0M477.89 279.37h0M479.22 279.26h0M480.32 279.54h0M476.71 280.79h0M477.7 280.71h0M477.99 281.75h0M477.7 284.25h0M477.97 286.75h0M477.51 289.25h0M477.91 291.75h0" stroke="#3b4b62" stroke-width="2.05" stroke-linecap="round" fill="none"/>
<rect x="469.5" y="250.5" width="17" height="21" fill="#9fa6ae" stroke="#333" stroke-width="1"/>
<rect x="470.5" y="251.5" width="15" height="19" fill="none" stroke="#fff" stroke-opacity="0.22" stroke-width="1"/>
<path d="M470.5 257.45H485.5M470.5 259.55H485.5" stroke="#fff" stroke-opacity="0.22" stroke-width="1"/>
<path d="M469.5 258.5H486.5" stroke="#2e2e2e" stroke-width="1.15"/>
<path d="M499.5 241.6V301.1" stroke="#444" stroke-width="1" fill="none"/>
<path d="M500.26 241.6h0M500.3 244.1h0M500.29 246.6h0M500.08 249.1h0M499.91 251.6h0M498.74 254.34h0M500.16 253.83h0M500.37 255.35h0M499.96 256.33h0M501.04 256.54h0M497.6 257.66h0M498.83 257.78h0M499.74 257.61h0M501.19 257.78h0M502.58 257.58h0M497.56 259.17h0M498.52 259.27h0M499.94 258.84h0M501.26 259.17h0M497.54 260.3h0M498.91 260.52h0M499.98 260.55h0M501.43 260.35h0M502.25 260.65h0M497.63 261.88h0M498.47 261.5h0M500.11 261.76h0M501.1 261.81h0M501.19 262.82h0M502.64 262.71h0M497.71 264.05h0M498.63 264.2h0M499.86 263.9h0M501.01 264.39h0M502.43 264.07h0M497.53 265.57h0M498.48 265.36h0M499.81 265.19h0M500.96 265.13h0M502.35 265.54h0M497.44 266.31h0M498.63 266.71h0M499.76 266.74h0M501.21 266.37h0M502.23 266.52h0M497.55 268.08h0M499.83 267.89h0M501.45 268.08h0M502.49 267.76h0M497.43 268.9h0M498.55 268.95h0M500.15 269.15h0M502.42 268.94h0M498.75 270.39h0M500.12 270.09h0M502.62 270.56h0M498.55 271.38h0M499.86 271.75h0M502.55 271.58h0M497.68 272.76h0M498.6 273.13h0M500.02 273.07h0M501.04 272.66h0M502.55 272.71h0M500.07 274.12h0M498.88 275.08h0M499.72 275.64h0M501.14 275.27h0M499.93 276.67h0M498.54 277.69h0M500.2 277.64h0M500.13 279.33h0M501.19 279h0M499.79 280.35h0M501.02 280.59h0M499.98 281.62h0M501.13 281.51h0M499.54 282.85h0M500.63 286.6h0M499.86 289.1h0M499.83 291.6h0M500.27 299.1h0" stroke="#20a8ea" stroke-width="2.05" stroke-linecap="round" fill="none"/>
<rect x="491.5" y="258.5" width="17" height="21" fill="#98d8f1" stroke="#333" stroke-width="1"/>
<rect x="492.5" y="259.5" width="15" height="19" fill="none" stroke="#fff" stroke-opacity="0.22" stroke-width="1"/>
<path d="M492.5 267.45H507.5M492.5 269.55H507.5" stroke="#fff" stroke-opacity="0.22" stroke-width="1"/>
<path d="M491.5 268.5H508.5" stroke="#2e2e2e" stroke-width="1.15"/>
<path d="M309.8 210V335.7H513.6" stroke="#333" stroke-width="1.5" fill="none"/>
<path d="M306.7 230H309.8M306.7 257.6H309.8M306.7 285.2H309.8M306.7 313H309.8M323 335.7V339.1M345.12 335.7V339.1M367.24 335.7V339.1M389.36 335.7V339.1M411.48 335.7V339.1M433.6 335.7V339.1M455.72 335.7V339.1M477.84 335.7V339.1M499.96 335.7V339.1" stroke="#333" stroke-width="1.15" fill="none"/>
<g font-size="7.8" fill="#1a1a1a" stroke="#1a1a1a" stroke-width="0.15" text-anchor="end">
<text transform="translate(303.5 232.95) scale(1 1.1)">100000</text>
<text transform="translate(303.5 260.55) scale(1 1.1)">10000</text>
<text transform="translate(303.5 288.15) scale(1 1.1)">1000</text>
<text transform="translate(303.5 315.95) scale(1 1.1)">100</text>
</g>
<g font-size="7.5" fill="#1a1a1a" stroke="#1a1a1a" stroke-width="0.15" text-anchor="middle">
<text transform="translate(323 212.3) scale(1 1.1)">6689</text>
<text x="323.2" y="219.3" font-size="6.2" font-weight="bold" letter-spacing="0.4" stroke="#111" stroke-width="0.12" fill="#111">***</text>
<text transform="translate(345.12 212.3) scale(1 1.1)">5710</text>
<text x="345.32" y="219.3" font-size="6.2" font-weight="bold" letter-spacing="0.4" stroke="#111" stroke-width="0.12" fill="#111">***</text>
<text transform="translate(367.24 212.3) scale(1 1.1)">5349</text>
<text x="367.44" y="219.3" font-size="6.2" font-weight="bold" letter-spacing="0.4" stroke="#111" stroke-width="0.12" fill="#111">***</text>
<text transform="translate(389.36 212.3) scale(1 1.1)">13244</text>
<text x="389.56" y="219.3" font-size="6.2" font-weight="bold" letter-spacing="0.4" stroke="#111" stroke-width="0.12" fill="#111">***</text>
<text transform="translate(411.48 212.3) scale(1 1.1)">3650</text>
<text x="411.68" y="219.3" font-size="6.2" font-weight="bold" letter-spacing="0.4" stroke="#111" stroke-width="0.12" fill="#111">***</text>
<text transform="translate(433.6 212.3) scale(1 1.1)">782</text>
<text x="433.4" y="220.15" font-size="6.5" font-style="italic" font-weight="bold" stroke="#2a2a2a" stroke-width="0.5" fill="#2a2a2a">#</text>
<text transform="translate(455.72 212.3) scale(1 1.1)">2010</text>
<text transform="translate(477.84 212.3) scale(1 1.1)">9258</text>
<text x="478.04" y="219.3" font-size="6.2" font-weight="bold" letter-spacing="0.4" stroke="#111" stroke-width="0.12" fill="#111">***</text>
<text transform="translate(499.96 212.3) scale(1 1.1)">4126</text>
<text x="500.16" y="219.3" font-size="6.2" font-weight="bold" letter-spacing="0.4" stroke="#111" stroke-width="0.12" fill="#111">**</text>
</g>
<text transform="translate(316 331) scale(1 1.07)" font-size="7.75" font-weight="bold" fill="#000" stroke="#000" stroke-width="0.3">CD185</text>
<g font-size="7.65" fill="#1a1a1a" stroke="#1a1a1a" stroke-width="0.15" text-anchor="end">
<text transform="translate(328.2 344.7) rotate(-45) scale(1 1.07)">BL</text>
<text transform="translate(350.19 344.62) rotate(-45) scale(1 1.07)">CD10<tspan font-size="4.4" dy="-3.3">−</tspan><tspan dy="3.3" dx="-0.5"> DLBCL</tspan></text>
<text transform="translate(372.19 344.55) rotate(-45) scale(1 1.07)">CD10<tspan font-size="5" dy="-3.1">+</tspan><tspan dy="3.1" dx="-0.3"> DLBCL</tspan></text>
<text transform="translate(394.19 344.47) rotate(-45) scale(1 1.07)">CLL</text>
<text transform="translate(416.18 344.4) rotate(-45) scale(1 1.07)">FL</text>
<text transform="translate(438.18 344.32) rotate(-45) scale(1 1.07)">HCL</text>
<text transform="translate(460.17 344.25) rotate(-45) scale(1 1.07)">LPL</text>
<text transform="translate(482.17 344.18) rotate(-45) scale(1 1.07)">MCL</text>
<text transform="translate(504.16 344.1) rotate(-45) scale(1 1.07)">MZL</text>
</g>
</g>
<g>
<path d="M48.5 452.3V489" stroke="#444" stroke-width="1" fill="none"/>
<path d="M47.87 452.3h0M48.31 454.71h0M49.41 454.95h0M47.89 456.05h0M48.32 459.8h0M47.96 462.3h0M47.97 464.8h0M48.44 467.3h0M48.62 469.8h0M48.31 472.3h0M47.73 474.8h0M47.1 475.98h0M49.21 476.29h0M47.57 477.3h0M48.16 478.29h0M47.88 479.8h0M48.19 486.05h0M48.25 487.38h0M49.21 487.38h0M47.56 488.55h0M48.1 499.3h0" stroke="#cf1038" stroke-width="2.05" stroke-linecap="round" fill="none"/>
<rect x="39.5" y="463.5" width="17" height="11" fill="#e8899b" stroke="#333" stroke-width="1"/>
<rect x="40.5" y="464.5" width="15" height="9" fill="none" stroke="#fff" stroke-opacity="0.22" stroke-width="1"/>
<path d="M40.5 470.45H55.5M40.5 472.55H55.5" stroke="#fff" stroke-opacity="0.22" stroke-width="1"/>
<path d="M39.5 471.5H56.5" stroke="#2e2e2e" stroke-width="1.15"/>
<path d="M70.5 438.3V507.6" stroke="#444" stroke-width="1" fill="none"/>
<path d="M70.54 438.3h0M70.53 440.8h0M71.1 443.3h0M72.09 444.66h0M70.05 445.8h0M70.19 448.3h0M70.5 450.8h0M70.59 454.55h0M67.56 457.33h0M69.09 456.76h0M70.45 457h0M68.97 458.08h0M70.15 458.55h0M71.53 458.42h0M70.25 460.8h0M69.65 463.3h0M69.84 465.8h0M70.1 468.3h0M70.13 470.8h0M69.92 473.3h0M70.57 475.8h0M70.22 478.3h0M69.83 480.8h0M70.38 483.3h0M70.02 485.8h0M70.43 488.3h0M70.51 490.8h0M70.42 492.26h0M71.51 492.15h0M68.78 493.5h0M70.43 493.19h0M71.41 493.18h0M70 494.55h0M70.06 497.05h0M68.96 498.35h0M70.25 498.45h0M70.23 499.77h0M71.31 499.31h0M70.17 500.8h0M70.46 503.3h0M70.59 505.8h0" stroke="#0f5596" stroke-width="2.05" stroke-linecap="round" fill="none"/>
<rect x="62.5" y="460.5" width="16" height="24" fill="#88a9cb" stroke="#333" stroke-width="1"/>
<rect x="63.5" y="461.5" width="14" height="22" fill="none" stroke="#fff" stroke-opacity="0.22" stroke-width="1"/>
<path d="M63.5 471.45H77.5M63.5 473.55H77.5" stroke="#fff" stroke-opacity="0.22" stroke-width="1"/>
<path d="M62.5 472.5H78.5" stroke="#2e2e2e" stroke-width="1.15"/>
<path d="M92.5 448.3V515.4" stroke="#444" stroke-width="1" fill="none"/>
<path d="M92.3 448.3h0M92.3 450.8h0M92.15 457.05h0M91.99 459.55h0M92.17 460.88h0M92.59 461.76h0M93.38 462.12h0M92.92 463.3h0M91.26 464.53h0M92.11 464.51h0M93.43 464.31h0M91.78 465.8h0M91.9 468.3h0M90.96 469.46h0M92.31 469.46h0M92.45 470.92h0M93.43 471.07h0M92.18 471.94h0M93.48 471.8h0M92.52 473.36h0M93.61 473.53h0M92.5 474.27h0M92.26 475.5h0M93.67 475.98h0M92.26 477.28h0M91.21 478.43h0M92.12 478.44h0M93.55 478.16h0M90.92 479.37h0M92.53 479.84h0M93.4 479.4h0M92.34 481h0M93.37 480.9h0M92.45 481.79h0M92.47 483.26h0M93.41 483.22h0M91.2 484.84h0M92.19 484.8h0M92.46 485.63h0M91.19 487.31h0M92.37 486.76h0M93.36 486.81h0M91.23 488.14h0M92.59 488.39h0M93.68 488.29h0M92.47 489.71h0M93.45 489.49h0M92.15 491.07h0M93.5 491.02h0M92.22 492.03h0M92.3 493.57h0M93.7 493.54h0M91.33 494.39h0M92.43 494.36h0M93.69 494.8h0M91.21 495.83h0M91.2 496.88h0M93.81 496.85h0M91.01 498.22h0M92.53 498.43h0M92.49 499.77h0M92.25 501.02h0M92.26 502.34h0M92.42 503.3h0M91.14 504.41h0M92.41 504.75h0M92.51 505.89h0M92.65 507.05h0M91.98 512.05h0M91.94 514.55h0" stroke="#2bb536" stroke-width="2.05" stroke-linecap="round" fill="none"/>
<rect x="84.5" y="470.5" width="16" height="25" fill="#a2dea5" stroke="#333" stroke-width="1"/>
<rect x="85.5" y="471.5" width="14" height="23" fill="none" stroke="#fff" stroke-opacity="0.22" stroke-width="1"/>
<path d="M85.5 486.45H99.5M85.5 488.55H99.5" stroke="#fff" stroke-opacity="0.22" stroke-width="1"/>
<path d="M84.5 487.5H100.5" stroke="#2e2e2e" stroke-width="1.15"/>
<path d="M114.5 454.3V492.4" stroke="#444" stroke-width="1" fill="none"/>
<path d="M114.2 454.3h0M114.56 456.75h0M113.36 457.77h0M114.54 457.88h0M115.62 458h0M112.23 459.6h0M113.23 459.08h0M114.73 459.37h0M116.91 459.17h0M113.4 460.42h0M116.9 460.66h0M110.65 461.7h0M112.12 461.75h0M114.71 461.79h0M115.88 461.89h0M118.47 461.98h0M110.51 462.98h0M112.13 462.79h0M113.33 462.94h0M114.62 462.79h0M115.58 462.88h0M117.1 463.04h0M118.3 463.04h0M107.12 464.22h0M108.12 464.6h0M109.34 464.23h0M110.87 464.57h0M112.1 464.48h0M114.72 464.51h0M115.53 464.41h0M117.22 464h0M119.36 464.51h0M120.57 464.48h0M121.92 464.23h0M109.3 465.83h0M110.91 465.46h0M111.89 465.34h0M114.36 465.63h0M115.89 465.36h0M117.24 465.48h0M118.26 465.3h0M109.56 466.98h0M110.97 466.94h0M112.1 466.53h0M113.39 466.51h0M114.62 467.05h0M115.66 466.84h0M117.12 466.58h0M118.03 467.09h0M119.45 466.86h0M108.2 467.97h0M109.61 467.95h0M110.6 467.88h0M111.78 468.23h0M113.19 468.28h0M114.29 468.23h0M115.65 468.24h0M117.18 468.28h0M118.3 468.02h0M119.53 467.99h0M120.56 468.22h0M108.33 469.55h0M109.51 469.23h0M110.95 469.53h0M111.78 469.36h0M113.27 469.5h0M114.64 469.5h0M115.96 469.36h0M116.92 469.38h0M118.18 469.48h0M119.36 469.25h0M106.8 470.41h0M108.16 470.59h0M109.25 470.47h0M110.58 470.43h0M111.75 470.73h0M113.28 470.61h0M114.53 470.45h0M115.69 470.28h0M116.98 470.34h0M118.36 470.68h0M120.63 470.57h0M122.01 470.36h0M101.05 471.79h0M102.12 471.64h0M103.38 471.79h0M104.79 471.91h0M105.93 471.85h0M107.09 471.83h0M112.24 471.97h0M113.65 471.63h0M114.77 471.61h0M117.38 472.04h0M118.65 471.99h0M119.76 471.72h0M121.02 471.84h0M122.16 471.61h0M123.48 471.9h0M124.53 471.85h0M125.91 472.01h0M106.94 473.18h0M108.11 473h0M111.82 472.92h0M113.32 472.86h0M114.36 472.85h0M115.88 473.3h0M116.78 472.9h0M118.15 473.34h0M120.93 472.95h0M122.23 472.85h0M107.19 474.09h0M108.34 474.51h0M110.94 474.17h0M111.77 474.46h0M113.26 474.24h0M114.39 474.51h0M115.8 474.17h0M116.82 474.4h0M119.49 474.03h0M120.6 474.41h0M122.12 474.42h0M106.98 475.65h0M108.23 475.85h0M109.31 475.6h0M110.54 475.8h0M113.05 475.27h0M114.62 475.38h0M115.54 475.65h0M119.44 475.74h0M120.77 475.32h0M121.75 475.83h0M107.17 477.05h0M108.03 476.7h0M110.69 476.52h0M111.84 476.59h0M113.48 476.72h0M114.56 477.01h0M118.17 476.97h0M121.79 476.53h0M108.22 477.86h0M109.24 478.33h0M110.68 477.96h0M112.09 478.08h0M113.06 477.97h0M114.43 478.09h0M115.62 478.31h0M118.25 477.9h0M119.45 478.03h0M120.91 477.95h0M121.85 477.95h0M106.81 479.37h0M109.34 479.17h0M110.59 479.32h0M111.93 479.04h0M113.12 479.32h0M114.68 479.06h0M115.95 479.27h0M119.29 479.21h0M120.72 479.48h0M122.08 479.32h0M110.61 480.77h0M113.05 480.34h0M114.66 480.69h0M116.97 480.54h0M118.43 480.4h0M112.21 481.62h0M113.25 482.09h0M114.59 481.97h0M116.92 481.61h0M118.21 481.77h0M119.32 481.95h0M109.72 482.83h0M110.75 482.84h0M111.82 483.15h0M113.03 482.76h0M114.4 482.9h0M117.03 482.78h0M118.16 483.15h0M119.65 483.19h0M109.29 484.57h0M110.73 484.03h0M111.98 484.43h0M113.12 484.34h0M114.52 484.36h0M115.65 484.59h0M117.21 484.6h0M118.41 484.27h0M119.27 484.57h0M110.52 485.3h0M113.18 485.69h0M114.64 485.81h0M115.79 485.63h0M116.81 485.3h0M118.22 485.59h0M111.85 487.05h0M114.27 486.92h0M115.96 486.82h0M117.04 486.6h0M118.37 486.64h0M113.49 488.13h0M114.48 487.85h0M115.66 487.97h0M117.22 488.12h0M113.11 489.6h0M114.49 489.52h0M114.32 490.4h0M114.24 491.8h0M114.49 446.7h0" stroke="#5a1b76" stroke-width="2.05" stroke-linecap="round" fill="none"/>
<rect x="106.5" y="467.5" width="16" height="12" fill="#b598c2" stroke="#333" stroke-width="1"/>
<rect x="107.5" y="468.5" width="14" height="10" fill="none" stroke="#fff" stroke-opacity="0.22" stroke-width="1"/>
<path d="M107.5 472.45H121.5M107.5 474.55H121.5" stroke="#fff" stroke-opacity="0.22" stroke-width="1"/>
<path d="M106.5 473.5H122.5" stroke="#2e2e2e" stroke-width="1.15"/>
<path d="M136.5 449.6V528.6" stroke="#444" stroke-width="1" fill="none"/>
<path d="M136.24 445.6h0M136.63 449.35h0M136.23 453.1h0M136.88 459.35h0M136.03 461.85h0M136.83 464.08h0M137.85 464.64h0M136.44 465.57h0M137.83 465.61h0M136.46 466.9h0M137.91 467.09h0M135.5 467.91h0M136.69 468.07h0M138.12 468.32h0M133.93 469.58h0M135.45 469.21h0M136.85 469.15h0M139.25 469.24h0M136.84 470.65h0M136.47 471.69h0M135.29 472.83h0M136.77 473.08h0M137.98 472.99h0M132.74 474.59h0M134.19 474.27h0M135.54 474.27h0M136.7 474.55h0M137.75 474.35h0M139.24 474.13h0M132.74 475.46h0M133.93 475.58h0M135.12 475.53h0M136.49 475.3h0M139.36 475.38h0M140.39 475.38h0M133.09 476.58h0M134.03 477.13h0M135.54 476.84h0M136.57 476.72h0M138.09 476.64h0M139.24 476.65h0M140.13 477.08h0M134.24 478.07h0M135.36 478.06h0M136.85 477.89h0M138.09 478.04h0M133.92 479.51h0M135.16 479.21h0M136.85 479.44h0M136.78 480.45h0M138.07 480.87h0M139.12 480.32h0M133.94 481.71h0M135.29 481.69h0M136.4 481.84h0M137.88 481.95h0M138.92 481.63h0M133.9 482.87h0M135.59 483.31h0M137.76 483.32h0M138.88 482.88h0M134 484.63h0M135.27 484.2h0M136.47 484.42h0M137.78 484.44h0M138.95 484.31h0M135.14 485.54h0M136.8 485.73h0M138.02 485.56h0M139.13 485.83h0M135.53 486.66h0M138.11 487.02h0M139.11 486.78h0M133.94 487.92h0M135.56 488.15h0M136.55 488.1h0M137.65 488.13h0M139.25 487.94h0M133.94 489.4h0M135.59 489.42h0M136.75 489.29h0M138.01 489.53h0M139.13 489.59h0M134.26 490.44h0M135.57 490.6h0M136.37 490.68h0M139.36 490.38h0M134.35 492.13h0M135.34 492.13h0M139.34 491.61h0M134.04 493.15h0M135.37 493.18h0M136.8 493.27h0M137.9 492.94h0M133.97 494.64h0M136.72 494.53h0M137.93 494.44h0M138.98 494.5h0M135.29 495.69h0M136.65 495.86h0M139.09 495.45h0M134.32 497.1h0M135.23 496.62h0M136.58 496.77h0M138.02 496.56h0M133.94 498.04h0M135.21 498.15h0M136.79 498.2h0M139.21 498.24h0M134.36 499.56h0M135.36 499.26h0M137.82 499.54h0M139.17 499.55h0M134.19 500.33h0M139.15 500.55h0M134.33 501.59h0M136.86 501.74h0M139.26 502.05h0M140.51 501.97h0M134.31 502.92h0M135.28 503.27h0M136.72 503.33h0M137.99 503.25h0M139.27 503.21h0M140.15 502.81h0M134.02 504.43h0M135.19 504.33h0M136.78 504.59h0M137.88 504.58h0M139.29 504.63h0M140.48 504.51h0M134.33 505.66h0M135.25 505.69h0M136.74 505.81h0M137.68 505.48h0M139 505.71h0M136.81 506.73h0M136.46 508.21h0M136.52 509.06h0M135.46 510.88h0M136.4 510.35h0M135.49 512.14h0M136.85 511.93h0M137.92 511.77h0M135.2 513.17h0M136.43 513.21h0M138.01 512.87h0M136.87 514.35h0M135.28 515.88h0M136.62 515.72h0M135.2 517.01h0M136.74 516.95h0M135.58 518.34h0M136.58 518.25h0M137.92 517.89h0M136.72 519.47h0M138.1 519.44h0M136.5 520.57h0M137.66 520.33h0M136.69 523.1h0M136.99 525.6h0M136.7 528.1h0" stroke="#ff8d0a" stroke-width="2.05" stroke-linecap="round" fill="none"/>
<rect x="128.5" y="479.5" width="16" height="21" fill="#ffcd82" stroke="#333" stroke-width="1"/>
<rect x="129.5" y="480.5" width="14" height="19" fill="none" stroke="#fff" stroke-opacity="0.22" stroke-width="1"/>
<path d="M129.5 486.45H143.5M129.5 488.55H143.5" stroke="#fff" stroke-opacity="0.22" stroke-width="1"/>
<path d="M128.5 487.5H144.5" stroke="#2e2e2e" stroke-width="1.15"/>
<path d="M158.5 426.4V469.3" stroke="#444" stroke-width="1" fill="none"/>
<path d="M159 427.65h0M157.31 428.99h0M158.74 429.14h0M155.19 430.4h0M156.13 430.41h0M158.69 429.95h0M159.95 430.06h0M161.06 430.43h0M157.27 431.28h0M158.97 431.21h0M160.23 431.16h0M161.38 431.39h0M158.84 432.65h0M158.48 435.15h0M158.26 437.65h0M157.58 440.28h0M158.94 439.96h0M159.89 440.43h0M157.5 441.43h0M158.52 441.31h0M160.15 442.44h0M157.41 444.02h0M158.89 443.93h0M160.13 443.9h0M158.55 445.28h0M160.2 445.36h0M157.33 446.33h0M158.86 446.29h0M157.34 447.66h0M158.67 447.54h0M157.64 448.69h0M158.63 449.1h0M159.87 448.88h0M158.87 450.39h0M160.09 449.95h0M156.41 451.33h0M157.72 451.15h0M158.55 451.13h0M160.11 451.41h0M161.26 451.39h0M156.3 452.48h0M157.56 452.8h0M158.75 452.39h0M159.77 452.77h0M161.07 452.57h0M156.37 453.87h0M158.61 453.68h0M160.22 454.09h0M161.2 454.01h0M156.3 455.39h0M157.54 455.3h0M158.83 455.41h0M161.17 455.06h0M158.71 456.66h0M160.21 456.53h0M158.52 457.46h0M157.27 459.11h0M158.89 458.76h0M156.28 460.43h0M157.48 460.04h0M158.55 460.21h0M159.93 460.15h0M161.12 460.02h0M158.77 461.47h0M159.9 461.18h0M158.89 462.65h0M158.64 465.15h0M158.82 467.65h0M158.75 478.9h0" stroke="#0f6c55" stroke-width="2.05" stroke-linecap="round" fill="none"/>
<rect x="150.5" y="439.5" width="16" height="15" fill="#8cb9ab" stroke="#333" stroke-width="1"/>
<rect x="151.5" y="440.5" width="14" height="13" fill="none" stroke="#fff" stroke-opacity="0.22" stroke-width="1"/>
<path d="M151.5 444.45H165.5M151.5 446.55H165.5" stroke="#fff" stroke-opacity="0.22" stroke-width="1"/>
<path d="M150.5 445.5H166.5" stroke="#2e2e2e" stroke-width="1.15"/>
<path d="M180.5 451.4V503.3" stroke="#444" stroke-width="1" fill="none"/>
<path d="M181.81 451.4h0M181.18 453.9h0M178.46 456.3h0M179.76 456.48h0M179.65 457.91h0M180.11 458.8h0M179.37 460.2h0M180.34 460.44h0M180.69 461.47h0M181.66 461.25h0M180.52 462.94h0M179.52 464.11h0M180.77 463.96h0M182.15 463.63h0M179.84 464.88h0M179.38 466.34h0M180.95 466.6h0M181.89 466.66h0M180.71 467.69h0M181.88 467.93h0M180.94 469.19h0M179.75 470.26h0M180.91 470.16h0M179.75 471.46h0M182.32 471.26h0M181.1 472.67h0M182.08 472.48h0M179.45 473.61h0M180.74 473.99h0M179.79 476.53h0M180.63 476.6h0M179.54 477.54h0M180.78 477.69h0M182.23 477.65h0M180.66 478.91h0M182.01 478.65h0M179.52 480.1h0M181.04 480.17h0M182.33 480.11h0M180.76 481.66h0M181.96 481.44h0M180.94 482.69h0M179.49 483.89h0M181.12 483.67h0M181.92 483.93h0M181.42 485.15h0M180.71 487.65h0M181.06 490.15h0M181.03 492.65h0M180.84 495.15h0M180.72 497.65h0M180.77 500.15h0M181.02 502.65h0M180.88 510h0" stroke="#8f86cd" stroke-width="2.05" stroke-linecap="round" fill="none"/>
<rect x="172.5" y="465.5" width="17" height="16" fill="#c4bfe4" stroke="#333" stroke-width="1"/>
<rect x="173.5" y="466.5" width="15" height="14" fill="none" stroke="#fff" stroke-opacity="0.22" stroke-width="1"/>
<path d="M173.5 471.45H188.5M173.5 473.55H188.5" stroke="#fff" stroke-opacity="0.22" stroke-width="1"/>
<path d="M172.5 472.5H189.5" stroke="#2e2e2e" stroke-width="1.15"/>
<path d="M203.5 452.6V506.9" stroke="#444" stroke-width="1" fill="none"/>
<path d="M202.62 452.6h0M202.87 456.35h0M202.95 460.1h0M201.61 461.64h0M203.03 461.31h0M204.19 461.05h0M202.93 462.43h0M204.24 462.45h0M203.09 463.94h0M201.85 464.97h0M203.15 465.24h0M204.17 465.31h0M202.82 466.1h0M200.57 467.4h0M201.77 467.58h0M203.25 467.69h0M204.39 467.76h0M205.37 467.88h0M200.44 469.08h0M203.08 468.93h0M204.1 468.7h0M205.29 469.01h0M200.7 470.34h0M201.62 470.35h0M203.09 470.2h0M205.37 470.24h0M202.94 471.25h0M204.03 471.53h0M202.79 472.84h0M204.07 472.51h0M202.82 473.64h0M203.26 475.32h0M201.77 476.32h0M203.21 476.21h0M201.76 477.77h0M203.02 477.41h0M203.25 478.78h0M204.27 478.82h0M202.94 480.08h0M201.8 481.26h0M201.81 482.62h0M203.03 482.42h0M204.02 482.71h0M201.59 483.62h0M202.77 484.01h0M204.4 483.77h0M202.86 485.11h0M202.52 486.35h0M203.12 488.85h0M203.08 491.35h0M203.29 493.85h0M203.14 496.35h0M202.98 497.54h0M202.77 498.85h0M202.86 501.35h0M203.18 503.85h0M202.81 506.35h0M203.01 518h0M203.01 523h0" stroke="#3b4b62" stroke-width="2.05" stroke-linecap="round" fill="none"/>
<rect x="194.5" y="471.5" width="17" height="16" fill="#9fa6ae" stroke="#333" stroke-width="1"/>
<rect x="195.5" y="472.5" width="15" height="14" fill="none" stroke="#fff" stroke-opacity="0.22" stroke-width="1"/>
<path d="M195.5 478.45H210.5M195.5 480.55H210.5" stroke="#fff" stroke-opacity="0.22" stroke-width="1"/>
<path d="M194.5 479.5H211.5" stroke="#2e2e2e" stroke-width="1.15"/>
<path d="M225.5 439.7V491.9" stroke="#444" stroke-width="1" fill="none"/>
<path d="M224.98 445.95h0M224.98 449.7h0M225.2 450.92h0M226.63 450.91h0M224.97 452.43h0M225.06 453.45h0M225.01 455.95h0M225.25 458.45h0M225.08 459.58h0M224.94 460.77h0M225.38 462.2h0M224.1 463.7h0M223.95 464.61h0M224.99 464.47h0M223.78 465.86h0M225.1 466.18h0M223.94 467.38h0M224.97 467.25h0M226.49 467.25h0M225.11 468.73h0M225.29 469.9h0M225.1 470.88h0M225.3 472.44h0M226.31 472.21h0M224.93 473.54h0M223.93 474.76h0M225.38 474.94h0M226.5 474.48h0M223.9 475.85h0M226.42 476.17h0M223.7 477.35h0M225.02 477.12h0M224.61 478.45h0M224.58 480.95h0M225.28 483.45h0M224.97 485.95h0M225.11 488.45h0M225.2 490.95h0" stroke="#20a8ea" stroke-width="2.05" stroke-linecap="round" fill="none"/>
<rect x="216.5" y="456.5" width="17" height="19" fill="#98d8f1" stroke="#333" stroke-width="1"/>
<rect x="217.5" y="457.5" width="15" height="17" fill="none" stroke="#fff" stroke-opacity="0.22" stroke-width="1"/>
<path d="M217.5 461.45H232.5M217.5 463.55H232.5" stroke="#fff" stroke-opacity="0.22" stroke-width="1"/>
<path d="M216.5 462.5H233.5" stroke="#2e2e2e" stroke-width="1.15"/>
<path d="M35 408V534H238.4" stroke="#333" stroke-width="1.5" fill="none"/>
<path d="M31.9 444.4H35M31.9 471H35M31.9 497.2H35M31.9 523.4H35M48.1 534V537.4M70.23 534V537.4M92.36 534V537.4M114.49 534V537.4M136.62 534V537.4M158.75 534V537.4M180.88 534V537.4M203.01 534V537.4M225.14 534V537.4" stroke="#333" stroke-width="1.15" fill="none"/>
<g font-size="7.8" fill="#1a1a1a" stroke="#1a1a1a" stroke-width="0.15" text-anchor="end">
<text transform="translate(28.7 447.35) scale(1 1.1)">30000</text>
<text transform="translate(28.7 473.95) scale(1 1.1)">10000</text>
<text transform="translate(28.7 500.15) scale(1 1.1)">3000</text>
<text transform="translate(28.7 526.35) scale(1 1.1)">1000</text>
</g>
<g font-size="7.5" fill="#1a1a1a" stroke="#1a1a1a" stroke-width="0.15" text-anchor="middle">
<text transform="translate(48.1 410.45) scale(1 1.1)">9666</text>
<text x="48.3" y="417.9" font-size="6.2" font-weight="bold" letter-spacing="0.4" stroke="#111" stroke-width="0.12" fill="#111">***</text>
<text transform="translate(70.23 410.45) scale(1 1.1)">9023</text>
<text x="70.43" y="417.9" font-size="6.2" font-weight="bold" letter-spacing="0.4" stroke="#111" stroke-width="0.12" fill="#111">***</text>
<text transform="translate(92.36 410.45) scale(1 1.1)">4885</text>
<text transform="translate(114.49 410.45) scale(1 1.1)">9017</text>
<text x="114.69" y="417.9" font-size="6.2" font-weight="bold" letter-spacing="0.4" stroke="#111" stroke-width="0.12" fill="#111">***</text>
<text transform="translate(136.62 410.45) scale(1 1.1)">4747</text>
<text x="136.42" y="418.75" font-size="6.5" font-style="italic" font-weight="bold" stroke="#2a2a2a" stroke-width="0.5" fill="#2a2a2a">#</text>
<text transform="translate(158.75 410.45) scale(1 1.1)">29035</text>
<text x="158.95" y="417.9" font-size="6.2" font-weight="bold" letter-spacing="0.4" stroke="#111" stroke-width="0.12" fill="#111">***</text>
<text transform="translate(180.88 410.45) scale(1 1.1)">9055</text>
<text x="181.08" y="417.9" font-size="6.2" font-weight="bold" letter-spacing="0.4" stroke="#111" stroke-width="0.12" fill="#111">***</text>
<text transform="translate(203.01 410.45) scale(1 1.1)">6747</text>
<text transform="translate(225.14 410.45) scale(1 1.1)">13784</text>
<text x="225.34" y="417.9" font-size="6.2" font-weight="bold" letter-spacing="0.4" stroke="#111" stroke-width="0.12" fill="#111">***</text>
</g>
<text transform="translate(41.2 529.3) scale(1 1.07)" font-size="7.75" font-weight="bold" fill="#000" stroke="#000" stroke-width="0.3">CD19</text>
<g font-size="7.65" fill="#1a1a1a" stroke="#1a1a1a" stroke-width="0.15" text-anchor="end">
<text transform="translate(51.1 542.9) rotate(-45) scale(1 1.07)">BL</text>
<text transform="translate(73.17 542.88) rotate(-45) scale(1 1.07)">CD10<tspan font-size="4.4" dy="-3.3">−</tspan><tspan dy="3.3" dx="-0.5"> DLBCL</tspan></text>
<text transform="translate(95.23 542.85) rotate(-45) scale(1 1.07)">CD10<tspan font-size="5" dy="-3.1">+</tspan><tspan dy="3.1" dx="-0.3"> DLBCL</tspan></text>
<text transform="translate(117.3 542.82) rotate(-45) scale(1 1.07)">CLL</text>
<text transform="translate(139.37 542.8) rotate(-45) scale(1 1.07)">FL</text>
<text transform="translate(161.44 542.77) rotate(-45) scale(1 1.07)">HCL</text>
<text transform="translate(183.5 542.75) rotate(-45) scale(1 1.07)">LPL</text>
<text transform="translate(205.57 542.73) rotate(-45) scale(1 1.07)">MCL</text>
<text transform="translate(227.64 542.7) rotate(-45) scale(1 1.07)">MZL</text>
</g>
</g>
<g>
<path d="M323.5 445V466.5" stroke="#444" stroke-width="1" fill="none"/>
<path d="M322.96 445h0M322.68 447.5h0M323.49 448.49h0M324.76 448.46h0M323.52 451.34h0M322.98 452.5h0M321.96 456.14h0M323.08 456.31h0M323.1 457.58h0M322.9 458.76h0M324.29 458.87h0M323.02 459.95h0M322.8 461h0M324.3 460.99h0M322.92 462.44h0M324.33 462.23h0M321.74 463.92h0M322.77 463.73h0M322.95 464.8h0M324.02 465.08h0M322.87 466.05h0M323 475.3h0" stroke="#cf1038" stroke-width="2.05" stroke-linecap="round" fill="none"/>
<rect x="314.5" y="454.5" width="17" height="7" fill="#e8899b" stroke="#333" stroke-width="1"/>
<rect x="315.5" y="455.5" width="15" height="5" fill="none" stroke="#fff" stroke-opacity="0.22" stroke-width="1"/>
<path d="M315 456.8H331" stroke="#ffffff" stroke-opacity="0.5" stroke-width="0.8"/>
<path d="M315.5 457.45H330.5M315.5 459.55H330.5" stroke="#fff" stroke-opacity="0.22" stroke-width="1"/>
<path d="M314.5 458.5H331.5" stroke="#2e2e2e" stroke-width="1.15"/>
<path d="M345.5 435.7V483.6" stroke="#444" stroke-width="1" fill="none"/>
<path d="M345.1 435.7h0M344.86 438.2h0M343.76 440.74h0M345.3 440.6h0M346.29 440.41h0M345.2 441.76h0M343.83 443.18h0M345.33 443.48h0M346.2 443.17h0M345.18 444.27h0M344.12 445.86h0M345.35 445.61h0M346.34 445.81h0M344.09 447.15h0M343.94 448.13h0M345.08 447.9h0M345.3 449.32h0M346.52 449.42h0M343.63 450.76h0M345.37 450.82h0M346.44 450.89h0M343.62 453.21h0M346.28 453.34h0M345.36 454.28h0M346.24 454.58h0M344.07 455.48h0M345.36 455.61h0M345.34 456.78h0M345.35 458.2h0M344.94 460.7h0M345.23 463.2h0M344.86 465.7h0M344.85 468.2h0M344.62 470.79h0M345.91 470.78h0M347.14 470.56h0M345.31 471.95h0M345.47 475.7h0M345.31 480.7h0M345.45 483.2h0M345.12 495.7h0M345.12 498.6h0M345.12 523.4h0M345.12 527h0" stroke="#0f5596" stroke-width="2.05" stroke-linecap="round" fill="none"/>
<rect x="336.5" y="447.5" width="17" height="19" fill="#88a9cb" stroke="#333" stroke-width="1"/>
<rect x="337.5" y="448.5" width="15" height="17" fill="none" stroke="#fff" stroke-opacity="0.22" stroke-width="1"/>
<path d="M337.5 458.45H352.5M337.5 460.55H352.5" stroke="#fff" stroke-opacity="0.22" stroke-width="1"/>
<path d="M336.5 459.5H353.5" stroke="#2e2e2e" stroke-width="1.15"/>
<path d="M367.5 433.9V486.4" stroke="#444" stroke-width="1" fill="none"/>
<path d="M367.22 435.15h0M367.63 437.65h0M367.17 440.15h0M366.09 441.35h0M367.11 441.25h0M364.52 442.41h0M365.92 442.93h0M367.42 442.78h0M368.61 442.73h0M369.71 442.76h0M367.3 444h0M365.83 444.87h0M367.05 445.2h0M368.71 444.92h0M366.09 446.19h0M367.48 446.66h0M367.53 447.65h0M367.64 450.15h0M367.3 452.65h0M367.5 455.15h0M367.63 457.65h0M367.52 461.4h0M367.02 463.9h0M367.14 466.4h0M364.96 470.4h0M365.92 470.38h0M367.11 470.07h0M368.4 470.29h0M369.93 470.38h0M364.82 471.38h0M367.15 471.58h0M368.49 471.26h0M369.9 471.42h0M366.23 472.84h0M366.65 473.9h0M367.56 476.4h0M367.54 478.9h0M367.47 481.4h0M366.97 483.9h0M367.31 486.4h0M367.24 511h0" stroke="#2bb536" stroke-width="2.05" stroke-linecap="round" fill="none"/>
<rect x="359.5" y="447.5" width="16" height="17" fill="#a2dea5" stroke="#333" stroke-width="1"/>
<rect x="360.5" y="448.5" width="14" height="15" fill="none" stroke="#fff" stroke-opacity="0.22" stroke-width="1"/>
<path d="M360.5 454.45H374.5M360.5 456.55H374.5" stroke="#fff" stroke-opacity="0.22" stroke-width="1"/>
<path d="M359.5 455.5H375.5" stroke="#2e2e2e" stroke-width="1.15"/>
<path d="M389.5 462V500.7" stroke="#444" stroke-width="1" fill="none"/>
<path d="M390.17 449.3h0M390.53 451.8h0M389.21 457.91h0M390.48 458.21h0M389.33 459.1h0M390.12 459.09h0M391.49 459.53h0M389.52 461.8h0M389.58 464.3h0M389.08 466.8h0M389.26 469.39h0M386.93 470.53h0M387.99 470.67h0M389.18 470.49h0M391.71 470.36h0M386.7 471.64h0M388.15 471.82h0M389.31 471.89h0M390.41 472.06h0M392.06 471.94h0M385.53 473.13h0M386.78 472.9h0M388 473h0M390.75 473.25h0M391.62 472.81h0M384.52 474.31h0M385.71 474.49h0M386.94 474.07h0M388.28 474.04h0M389.6 474.52h0M390.55 474.27h0M391.86 474.28h0M392.99 474.23h0M380.58 475.26h0M381.98 475.64h0M383.17 475.53h0M384.51 475.8h0M386.75 475.51h0M387.93 475.75h0M389.15 475.54h0M391.63 475.73h0M393.22 475.32h0M395.48 475.35h0M396.94 475.29h0M398.02 475.76h0M380.53 476.67h0M382.1 476.9h0M383.04 476.96h0M384.21 477.09h0M385.79 477.08h0M386.98 476.56h0M388.27 476.92h0M389.22 476.96h0M390.85 477.02h0M393.27 476.6h0M394.38 476.62h0M396.67 476.92h0M398.22 476.52h0M380.66 478.26h0M382.01 478.35h0M383.04 478.3h0M384.14 477.94h0M385.45 478.02h0M386.8 478.31h0M388.14 477.86h0M389.42 477.99h0M391.72 478.22h0M394.39 478.19h0M395.51 477.8h0M396.75 477.92h0M398.22 477.82h0M380.59 479.35h0M381.9 479.16h0M383.14 479.41h0M384.31 479.48h0M385.64 479.23h0M386.64 479.2h0M388.23 479.59h0M389.14 479.03h0M390.4 479.38h0M391.93 479.16h0M393.08 479.47h0M394.16 479.22h0M395.79 479.14h0M396.85 479.38h0M398.36 479.35h0M380.36 480.84h0M382.02 480.59h0M384.39 480.29h0M385.57 480.7h0M386.93 480.49h0M388.17 480.59h0M389.6 480.83h0M391.76 480.84h0M392.96 480.77h0M394.23 480.51h0M395.53 480.48h0M396.69 480.83h0M398.11 480.66h0M380.61 481.69h0M382.06 482.1h0M383.07 481.51h0M384.16 481.95h0M385.46 482.02h0M386.87 481.62h0M388.13 481.66h0M389.46 481.71h0M390.86 482.08h0M391.87 481.69h0M392.87 481.95h0M394.58 481.62h0M396.95 481.65h0M397.95 481.52h0M380.39 483.19h0M382.1 482.89h0M383.18 483.07h0M384.38 482.84h0M385.8 483.22h0M386.63 483.27h0M389.43 482.8h0M390.49 483.02h0M392.06 482.99h0M392.93 482.78h0M394.39 482.88h0M395.36 483.3h0M396.74 483.09h0M398.09 482.94h0M380.85 484.06h0M381.72 484.06h0M384.18 484.07h0M386.65 484.28h0M388.15 484.17h0M389.51 484.53h0M390.51 484.26h0M391.67 484.01h0M394.34 484.23h0M395.7 484.3h0M397.09 484.04h0M397.87 484.57h0M380.77 485.31h0M381.71 485.53h0M383.28 485.28h0M384.48 485.46h0M385.78 485.31h0M388.19 485.62h0M389.54 485.64h0M390.38 485.75h0M391.88 485.64h0M393.2 485.28h0M396.75 485.76h0M397.87 485.39h0M380.53 486.73h0M381.97 486.88h0M384.42 486.88h0M385.83 487.08h0M387.98 486.92h0M389.59 487.07h0M390.57 486.98h0M391.88 486.65h0M393.05 486.76h0M394.56 487.07h0M398.32 486.73h0M384.16 488.01h0M385.5 488.32h0M386.8 488.09h0M388.3 488h0M389.29 487.86h0M390.56 488.32h0M391.62 488.19h0M393.2 487.76h0M394.51 487.81h0M395.52 488.11h0M384.3 489.27h0M385.5 489.3h0M387.05 489.06h0M388.02 489.1h0M389.44 489.17h0M390.39 489.51h0M392.05 489.42h0M393.07 489.58h0M384.54 490.68h0M386.73 490.83h0M388.15 490.52h0M389.54 490.77h0M390.45 490.41h0M391.74 490.65h0M394.18 490.64h0M387.04 492.03h0M388.08 491.88h0M389.41 491.61h0M390.73 492.01h0M391.62 492.1h0M389.11 493.22h0M389.56 494.3h0M389.02 496.8h0M388.16 499.05h0M389.14 499.21h0M390.44 499.19h0M389.3 500.55h0M389.36 506.1h0M389.36 521h0" stroke="#5a1b76" stroke-width="2.05" stroke-linecap="round" fill="none"/>
<rect x="381.5" y="476.5" width="16" height="10" fill="#b598c2" stroke="#333" stroke-width="1"/>
<rect x="382.5" y="477.5" width="14" height="8" fill="none" stroke="#fff" stroke-opacity="0.22" stroke-width="1"/>
<path d="M382.5 480.45H396.5M382.5 482.55H396.5" stroke="#fff" stroke-opacity="0.22" stroke-width="1"/>
<path d="M381.5 481.5H397.5" stroke="#2e2e2e" stroke-width="1.15"/>
<path d="M411.5 441.4V474.5" stroke="#444" stroke-width="1" fill="none"/>
<path d="M411.29 441.4h0M411.75 443.9h0M411.53 444.93h0M412.5 445.25h0M411.65 446.25h0M408.89 447.81h0M410.18 447.61h0M411.52 447.9h0M412.55 447.66h0M414.21 447.66h0M409.17 449.17h0M410.09 448.92h0M411.73 449.07h0M413.74 448.79h0M407.97 450.22h0M408.96 449.89h0M410.28 450.19h0M411.59 450.31h0M412.59 449.97h0M415.25 450.13h0M407.58 451.49h0M408.95 451.35h0M410.28 451.56h0M412.88 451.34h0M414.14 451.38h0M415.2 451.43h0M406.48 452.53h0M407.9 452.83h0M409.23 452.49h0M410.23 452.49h0M411.63 452.85h0M413.95 452.46h0M415.18 452.59h0M416.28 452.37h0M404.11 454.13h0M405.39 453.97h0M407.59 453.87h0M408.92 454.18h0M410.28 454.03h0M411.34 453.77h0M412.77 453.84h0M414.21 454.12h0M415.18 453.82h0M416.27 453.73h0M417.53 454.12h0M418.83 453.98h0M400.34 455.31h0M401.35 455.1h0M402.75 455.28h0M405.39 455.06h0M406.24 455.35h0M407.83 455.28h0M411.67 455.41h0M412.7 455.34h0M413.99 455.39h0M415.16 454.88h0M416.23 455.12h0M417.82 455.25h0M418.75 455.12h0M420.16 455.38h0M421.48 455.29h0M422.92 454.91h0M402.59 456.54h0M403.74 456.52h0M405.33 456.38h0M406.29 456.67h0M408.74 456.37h0M411.7 456.66h0M412.92 456.58h0M413.88 456.63h0M416.46 456.13h0M417.57 456.18h0M419.12 456.24h0M420.19 456.12h0M402.65 457.39h0M404.01 457.79h0M405.31 457.62h0M406.29 457.37h0M407.83 457.67h0M408.96 457.52h0M410.02 457.46h0M411.24 457.74h0M413.79 457.51h0M415.02 457.46h0M416.65 457.8h0M417.51 457.62h0M418.97 457.49h0M420.19 457.88h0M402.71 459.07h0M403.98 458.9h0M406.54 458.91h0M409.17 458.81h0M410.36 458.76h0M411.34 458.77h0M412.58 458.62h0M413.94 458.91h0M419.04 459.04h0M420.37 458.99h0M402.74 460.25h0M403.92 460.11h0M405.31 459.99h0M406.45 459.97h0M407.69 460.16h0M409.1 460.31h0M411.41 460.45h0M412.51 459.92h0M413.84 460.4h0M415.47 460.32h0M416.34 459.9h0M417.7 459.87h0M418.78 460.13h0M420.46 460.01h0M402.96 461.42h0M403.84 461.21h0M405.28 461.7h0M406.7 461.44h0M407.49 461.67h0M409.02 461.48h0M410.22 461.12h0M411.41 461.36h0M412.57 461.15h0M413.76 461.41h0M415.33 461.3h0M416.39 461.19h0M417.71 461.49h0M418.84 461.14h0M419.98 461.68h0M402.57 462.6h0M403.95 462.39h0M406.47 462.94h0M407.85 462.52h0M408.84 462.52h0M411.26 462.88h0M412.64 462.5h0M413.97 462.9h0M415.48 462.95h0M416.72 462.72h0M417.87 462.54h0M418.87 462.73h0M420.17 462.7h0M402.48 463.69h0M403.93 464.07h0M405.24 464.01h0M406.6 464.08h0M407.78 463.91h0M410.16 463.97h0M413.74 464.08h0M415.28 463.71h0M417.57 463.68h0M418.9 463.93h0M420.07 463.7h0M403.95 465.06h0M405.35 465.39h0M407.73 464.85h0M410.45 464.96h0M411.24 465.01h0M412.52 465.43h0M413.74 465.14h0M417.65 465.22h0M418.77 464.91h0M406.5 466.44h0M407.52 466.48h0M408.77 466.64h0M410 466.48h0M414.15 466.11h0M407.77 467.77h0M408.84 467.87h0M410.42 467.46h0M411.34 467.85h0M413.75 467.7h0M414.99 467.48h0M407.95 469.11h0M408.76 469.12h0M410.27 469.07h0M411.39 468.85h0M412.57 469.15h0M413.95 468.91h0M415.4 469.14h0M409.18 469.98h0M410.27 470.35h0M412.54 470.18h0M413.89 469.89h0M409.02 471.33h0M410.1 471.39h0M411.52 471.7h0M413.96 471.65h0M411.55 472.51h0M411.55 473.9h0M411.48 432.9h0M411.48 435.7h0M411.48 477h0M411.48 480h0M411.48 482.9h0M411.48 486.4h0" stroke="#ff8d0a" stroke-width="2.05" stroke-linecap="round" fill="none"/>
<rect x="403.5" y="454.5" width="16" height="10" fill="#ffcd82" stroke="#333" stroke-width="1"/>
<rect x="404.5" y="455.5" width="14" height="8" fill="none" stroke="#fff" stroke-opacity="0.22" stroke-width="1"/>
<path d="M404 456.8H419" stroke="#ffffff" stroke-opacity="0.5" stroke-width="0.8"/>
<path d="M404.5 457.45H418.5M404.5 459.55H418.5" stroke="#fff" stroke-opacity="0.22" stroke-width="1"/>
<path d="M403.5 458.5H419.5" stroke="#2e2e2e" stroke-width="1.15"/>
<path d="M433.5 425.7V452.9" stroke="#444" stroke-width="1" fill="none"/>
<path d="M432.59 425.91h0M433.82 425.8h0M434.93 425.79h0M432.1 427.18h0M433.49 426.92h0M433.05 428.2h0M433.85 429.34h0M435.03 429.45h0M432.14 430.69h0M433.75 430.83h0M436.34 430.64h0M430.97 432.07h0M432.22 431.9h0M433.67 431.91h0M434.73 431.81h0M436.04 431.84h0M431.23 433.26h0M433.75 433.25h0M434.93 432.93h0M430.98 434.33h0M432.59 434.48h0M433.67 434.21h0M434.89 434.25h0M436.34 434.7h0M432.22 435.74h0M433.55 435.74h0M434.85 435.47h0M436.31 435.91h0M431.32 436.85h0M432.23 437.1h0M433.52 437.09h0M435.03 436.7h0M432.13 438.06h0M433.52 438.15h0M435.06 438.17h0M431.11 439.53h0M433.7 439.2h0M434.9 439.61h0M436.1 439.65h0M430.9 440.71h0M432.47 440.75h0M433.78 440.69h0M434.63 440.6h0M436.06 440.73h0M431.3 442.24h0M432.41 441.67h0M434.95 442.19h0M436.05 441.73h0M432.51 442.93h0M433.41 443.02h0M433.54 444.38h0M435.07 444.22h0M432.46 445.93h0M433.82 445.85h0M433.77 446.95h0M434.22 449.45h0M434.03 451.95h0" stroke="#0f6c55" stroke-width="2.05" stroke-linecap="round" fill="none"/>
<rect x="425.5" y="432.5" width="16" height="9" fill="#8cb9ab" stroke="#333" stroke-width="1"/>
<rect x="426.5" y="433.5" width="14" height="7" fill="none" stroke="#fff" stroke-opacity="0.22" stroke-width="1"/>
<path d="M426 435.4H441" stroke="#ffffff" stroke-opacity="0.5" stroke-width="0.8"/>
<path d="M426.5 436.45H440.5M426.5 438.55H440.5" stroke="#fff" stroke-opacity="0.22" stroke-width="1"/>
<path d="M425.5 437.5H441.5" stroke="#2e2e2e" stroke-width="1.15"/>
<path d="M455.5 444.3V485" stroke="#444" stroke-width="1" fill="none"/>
<path d="M455.96 444.3h0M455.72 446.66h0M455.89 448.05h0M450.89 450.65h0M452.05 450.82h0M453.08 450.41h0M454.59 450.27h0M455.81 450.63h0M456.9 450.72h0M458.21 450.61h0M459.23 450.34h0M455.62 452.02h0M456.93 451.86h0M454.62 454.59h0M455.54 454.44h0M454.32 455.55h0M455.71 456.5h0M456.81 456.51h0M454.54 458.06h0M455.84 458h0M457.16 458.35h0M454.46 459.56h0M455.59 459.49h0M457.21 459.34h0M455.54 460.82h0M453.43 461.89h0M454.45 462.06h0M455.89 462.08h0M456.74 462h0M453.03 463.1h0M454.42 463.12h0M455.95 462.93h0M456.81 463.09h0M458.37 462.86h0M453.24 464.54h0M454.3 464.49h0M457.01 464.1h0M458.17 464.59h0M453.2 465.51h0M455.78 465.72h0M456.72 465.68h0M458.21 465.75h0M453.2 466.72h0M454.58 466.51h0M457.99 467.06h0M453.36 467.97h0M455.88 468.12h0M456.84 467.82h0M458.43 468.29h0M455.48 469.49h0M455.96 470.61h0M456.81 470.3h0M455.58 471.99h0M455.96 472.86h0M455.91 474.3h0M456.09 476.8h0M456.03 479.3h0M455.78 481.8h0M455.35 484.3h0M455.72 489.7h0M455.72 529h0" stroke="#8f86cd" stroke-width="2.05" stroke-linecap="round" fill="none"/>
<rect x="447.5" y="453.5" width="16" height="13" fill="#c4bfe4" stroke="#333" stroke-width="1"/>
<rect x="448.5" y="454.5" width="14" height="11" fill="none" stroke="#fff" stroke-opacity="0.22" stroke-width="1"/>
<path d="M448 455.7H463" stroke="#ffffff" stroke-opacity="0.5" stroke-width="0.8"/>
<path d="M448.5 457.45H462.5M448.5 459.55H462.5" stroke="#fff" stroke-opacity="0.22" stroke-width="1"/>
<path d="M447.5 458.5H463.5" stroke="#2e2e2e" stroke-width="1.15"/>
<path d="M477.5 441.4V475" stroke="#444" stroke-width="1" fill="none"/>
<path d="M478.97 441.4h0M478.39 443.87h0M476.56 445.01h0M478.14 445.27h0M478.93 445.1h0M475.54 446.51h0M476.73 446.29h0M477.67 446.12h0M479.16 446.17h0M473.88 447.73h0M475.28 447.84h0M476.64 447.64h0M477.73 447.46h0M479.03 447.58h0M480.19 447.65h0M481.82 447.42h0M475.39 448.99h0M476.7 448.62h0M477.78 448.94h0M479.15 448.86h0M480.58 448.87h0M477.83 449.98h0M480.15 450.05h0M477.98 451.58h0M476.34 452.83h0M477.82 452.54h0M479.33 452.54h0M476.77 453.65h0M477.77 453.75h0M477.68 454.93h0M477.66 456.49h0M479.17 456.15h0M477.79 457.6h0M476.64 458.68h0M477.81 458.76h0M479 459h0M477.71 460.04h0M479.14 460.39h0M477.76 461.66h0M478.07 462.7h0M478.06 463.8h0M478.44 465.15h0M477.77 467.65h0M473.97 468.79h0M475.15 468.76h0M476.63 469.19h0M477.65 469.1h0M479.25 468.84h0M480.59 468.79h0M481.37 469.15h0M476.55 470.36h0M477.89 470.39h0M478.9 470.25h0M477.25 471.4h0M477.43 473.9h0" stroke="#3b4b62" stroke-width="2.05" stroke-linecap="round" fill="none"/>
<rect x="469.5" y="450.5" width="17" height="12" fill="#9fa6ae" stroke="#333" stroke-width="1"/>
<rect x="470.5" y="451.5" width="15" height="10" fill="none" stroke="#fff" stroke-opacity="0.22" stroke-width="1"/>
<path d="M470 453.6H486" stroke="#ffffff" stroke-opacity="0.5" stroke-width="0.8"/>
<path d="M470.5 455.45H485.5M470.5 457.55H485.5" stroke="#fff" stroke-opacity="0.22" stroke-width="1"/>
<path d="M469.5 456.5H486.5" stroke="#2e2e2e" stroke-width="1.15"/>
<path d="M499.5 439.3V471.4" stroke="#444" stroke-width="1" fill="none"/>
<path d="M500.7 439.43h0M500.54 440.55h0M497.26 442.83h0M498.71 442.96h0M499.91 443.31h0M501.19 443.21h0M502.27 443.17h0M503.91 443.05h0M497.63 444.24h0M498.93 444.15h0M499.79 444.23h0M501.24 444.03h0M502.67 444.44h0M500.32 445.55h0M499.83 448.05h0M500.24 450.55h0M500.41 453.05h0M500.55 455.55h0M500.34 458.05h0M499.9 460.55h0M500.2 463.04h0M501.3 463.15h0M499.39 464.3h0M498.53 465.48h0M500.1 465.67h0M498.83 467.09h0M499.76 466.86h0M500.02 467.94h0M500.02 469.29h0M499.92 470.55h0M499.96 484h0" stroke="#20a8ea" stroke-width="2.05" stroke-linecap="round" fill="none"/>
<rect x="491.5" y="448.5" width="17" height="13" fill="#98d8f1" stroke="#333" stroke-width="1"/>
<rect x="492.5" y="449.5" width="15" height="11" fill="none" stroke="#fff" stroke-opacity="0.22" stroke-width="1"/>
<path d="M492.5 451.45H507.5M492.5 453.55H507.5" stroke="#fff" stroke-opacity="0.22" stroke-width="1"/>
<path d="M491.5 452.5H508.5" stroke="#2e2e2e" stroke-width="1.15"/>
<path d="M309.8 408V534H513.6" stroke="#333" stroke-width="1.5" fill="none"/>
<path d="M306.7 433H309.8M306.7 465.4H309.8M306.7 497.6H309.8M306.7 529.8H309.8M323 534V537.4M345.12 534V537.4M367.24 534V537.4M389.36 534V537.4M411.48 534V537.4M433.6 534V537.4M455.72 534V537.4M477.84 534V537.4M499.96 534V537.4" stroke="#333" stroke-width="1.15" fill="none"/>
<g font-size="7.8" fill="#1a1a1a" stroke="#1a1a1a" stroke-width="0.15" text-anchor="end">
<text transform="translate(303.5 435.95) scale(1 1.1)">100000</text>
<text transform="translate(303.5 468.35) scale(1 1.1)">10000</text>
<text transform="translate(303.5 500.55) scale(1 1.1)">1000</text>
<text transform="translate(303.5 532.75) scale(1 1.1)">100</text>
</g>
<g font-size="7.5" fill="#1a1a1a" stroke="#1a1a1a" stroke-width="0.15" text-anchor="middle">
<text transform="translate(323.2 410) scale(1 1.02)">16260</text>
<text x="323.4" y="417.4" font-size="6.2" font-weight="bold" letter-spacing="0.4" stroke="#111" stroke-width="0.12" fill="#111">***</text>
<text transform="translate(346 410) scale(1 1.02)">15346</text>
<text x="346.2" y="417.4" font-size="6.2" font-weight="bold" letter-spacing="0.4" stroke="#111" stroke-width="0.12" fill="#111">***</text>
<text transform="translate(368.4 410) scale(1 1.02)">19693</text>
<text x="368.6" y="417.4" font-size="6.2" font-weight="bold" letter-spacing="0.4" stroke="#111" stroke-width="0.12" fill="#111">***</text>
<text transform="translate(388.8 410) scale(1 1.02)">3229</text>
<text x="388.6" y="418.25" font-size="6.5" font-style="italic" font-weight="bold" stroke="#2a2a2a" stroke-width="0.5" fill="#2a2a2a">#</text>
<text transform="translate(409.5 410) scale(1 1.02)">16590</text>
<text x="409.7" y="417.4" font-size="6.2" font-weight="bold" letter-spacing="0.4" stroke="#111" stroke-width="0.12" fill="#111">***</text>
<text transform="translate(432.2 410) scale(1 1.02)">75760</text>
<text x="432.4" y="417.4" font-size="6.2" font-weight="bold" letter-spacing="0.4" stroke="#111" stroke-width="0.12" fill="#111">***</text>
<text transform="translate(455 410) scale(1 1.02)">17096</text>
<text x="455.2" y="417.4" font-size="6.2" font-weight="bold" letter-spacing="0.4" stroke="#111" stroke-width="0.12" fill="#111">***</text>
<text transform="translate(477.6 410) scale(1 1.02)">19458</text>
<text x="477.8" y="417.4" font-size="6.2" font-weight="bold" letter-spacing="0.4" stroke="#111" stroke-width="0.12" fill="#111">***</text>
<text transform="translate(500.1 410) scale(1 1.02)">24327</text>
<text x="500.3" y="417.4" font-size="6.2" font-weight="bold" letter-spacing="0.4" stroke="#111" stroke-width="0.12" fill="#111">***</text>
</g>
<text transform="translate(316 529.3) scale(1 1.07)" font-size="7.75" font-weight="bold" fill="#000" stroke="#000" stroke-width="0.3">CD20</text>
<g font-size="7.65" fill="#1a1a1a" stroke="#1a1a1a" stroke-width="0.15" text-anchor="end">
<text transform="translate(328.2 543) rotate(-45) scale(1 1.07)">BL</text>
<text transform="translate(350.19 542.92) rotate(-45) scale(1 1.07)">CD10<tspan font-size="4.4" dy="-3.3">−</tspan><tspan dy="3.3" dx="-0.5"> DLBCL</tspan></text>
<text transform="translate(372.19 542.85) rotate(-45) scale(1 1.07)">CD10<tspan font-size="5" dy="-3.1">+</tspan><tspan dy="3.1" dx="-0.3"> DLBCL</tspan></text>
<text transform="translate(394.19 542.77) rotate(-45) scale(1 1.07)">CLL</text>
<text transform="translate(416.18 542.7) rotate(-45) scale(1 1.07)">FL</text>
<text transform="translate(438.18 542.62) rotate(-45) scale(1 1.07)">HCL</text>
<text transform="translate(460.17 542.55) rotate(-45) scale(1 1.07)">LPL</text>
<text transform="translate(482.17 542.48) rotate(-45) scale(1 1.07)">MCL</text>
<text transform="translate(504.16 542.4) rotate(-45) scale(1 1.07)">MZL</text>
</g>
</g>
<path d="M0 0H520V581H0Z M1.2 1.2V579.8H518.6V1.2Z" fill="#000" fill-rule="evenodd"/>
</svg></body></html>
